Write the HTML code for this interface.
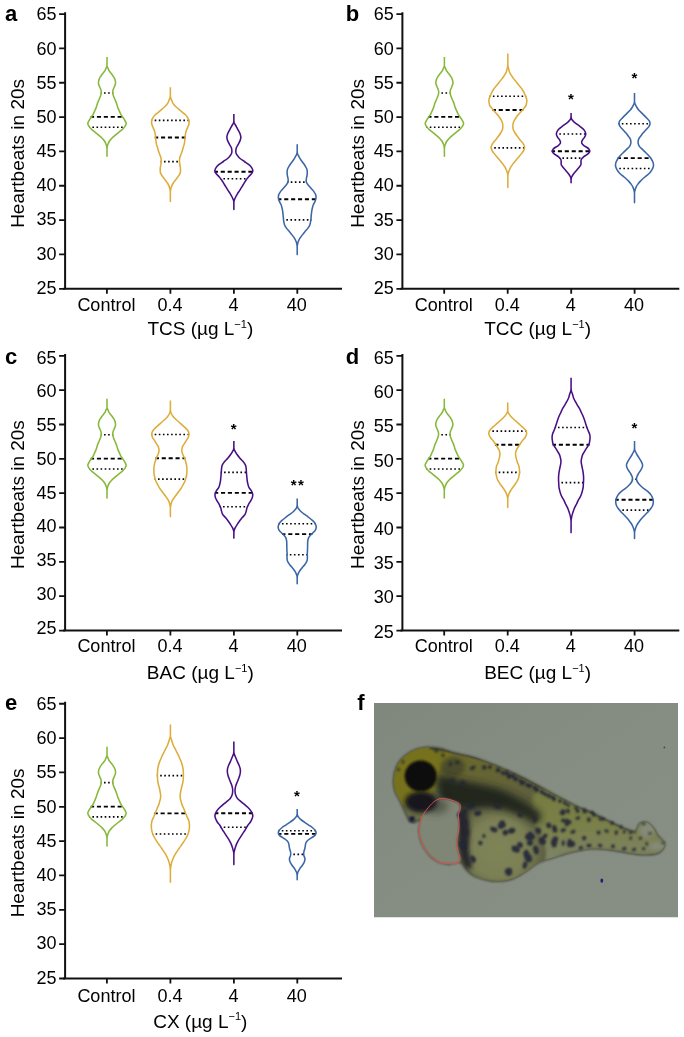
<!DOCTYPE html>
<html><head><meta charset="utf-8"><title>Figure</title>
<style>
html,body{margin:0;padding:0;background:#fff;}
body{width:684px;height:1037px;overflow:hidden;}
svg{display:block;will-change:transform;}
text{font-family:"Liberation Sans",sans-serif;fill:#000;}
.tl{font-size:18px;}
.tt{font-size:19px;}
.sup{font-size:11px;}
.pl{font-size:22px;font-weight:bold;}
.st{font-size:15px;font-weight:bold;}
.ax{stroke:#111;stroke-width:2;fill:none;stroke-linecap:square;}
.tk{stroke:#111;stroke-width:1.8;fill:none;}
.md{stroke:#000;stroke-width:1.9;stroke-dasharray:4.1 2.8;stroke-dashoffset:0.65;}
.qt{stroke:#000;stroke-width:1.6;stroke-dasharray:1.6 2.5;stroke-dashoffset:0.75;}
</style></head><body>
<svg width="684" height="1037" viewBox="0 0 684 1037">

<g transform="translate(0 0)">
<path d="M65.1 13.15 V288.8 M64.1 288.8 H341" class="ax"/>
<text x="56.6" y="20.4" class="tl" text-anchor="end">65</text>
<text x="56.6" y="54.57" class="tl" text-anchor="end">60</text>
<text x="56.6" y="88.74" class="tl" text-anchor="end">55</text>
<text x="56.6" y="122.91" class="tl" text-anchor="end">50</text>
<text x="56.6" y="157.07" class="tl" text-anchor="end">45</text>
<text x="56.6" y="191.24" class="tl" text-anchor="end">40</text>
<text x="56.6" y="225.41" class="tl" text-anchor="end">35</text>
<text x="56.6" y="259.58" class="tl" text-anchor="end">30</text>
<text x="56.6" y="293.75" class="tl" text-anchor="end">25</text>
<text x="106.4" y="311.3" class="tl" text-anchor="middle">Control</text>
<text x="169.9" y="311.3" class="tl" text-anchor="middle">0.4</text>
<text x="233.4" y="311.3" class="tl" text-anchor="middle">4</text>
<text x="296.8" y="311.3" class="tl" text-anchor="middle">40</text>
<path d="M59.1 14.05 H65.1 M59.1 48.39 H65.1 M59.1 82.74 H65.1 M59.1 117.08 H65.1 M59.1 151.43 H65.1 M59.1 185.77 H65.1 M59.1 220.11 H65.1 M59.1 254.46 H65.1 M59.1 288.8 H65.1 M106.9 288.8 V293.7 M170.4 288.8 V293.7 M233.9 288.8 V293.7 M297.3 288.8 V293.7" class="tk"/>
<text x="24" y="153.4" class="tt" text-anchor="middle" transform="rotate(-90 24 153.4)">Heartbeats in 20s</text>
<text x="200.3" y="335.35" class="tt" text-anchor="middle">TCS (µg L<tspan class="sup" dy="-7.2">−1</tspan><tspan dy="7.2">)</tspan></text>
</g>
<text x="5" y="20.5" class="pl">a</text>
<g transform="translate(337.3 0)">
<path d="M65.1 13.15 V288.8 M64.1 288.8 H341" class="ax"/>
<text x="56.6" y="20.4" class="tl" text-anchor="end">65</text>
<text x="56.6" y="54.59" class="tl" text-anchor="end">60</text>
<text x="56.6" y="88.78" class="tl" text-anchor="end">55</text>
<text x="56.6" y="122.96" class="tl" text-anchor="end">50</text>
<text x="56.6" y="157.15" class="tl" text-anchor="end">45</text>
<text x="56.6" y="191.34" class="tl" text-anchor="end">40</text>
<text x="56.6" y="225.52" class="tl" text-anchor="end">35</text>
<text x="56.6" y="259.71" class="tl" text-anchor="end">30</text>
<text x="56.6" y="293.9" class="tl" text-anchor="end">25</text>
<text x="106.4" y="311.3" class="tl" text-anchor="middle">Control</text>
<text x="169.9" y="311.3" class="tl" text-anchor="middle">0.4</text>
<text x="233.4" y="311.3" class="tl" text-anchor="middle">4</text>
<text x="296.8" y="311.3" class="tl" text-anchor="middle">40</text>
<path d="M59.1 14.05 H65.1 M59.1 48.39 H65.1 M59.1 82.74 H65.1 M59.1 117.08 H65.1 M59.1 151.43 H65.1 M59.1 185.77 H65.1 M59.1 220.11 H65.1 M59.1 254.46 H65.1 M59.1 288.8 H65.1 M106.9 288.8 V293.7 M170.4 288.8 V293.7 M233.9 288.8 V293.7 M297.3 288.8 V293.7" class="tk"/>
<text x="26.7" y="153.4" class="tt" text-anchor="middle" transform="rotate(-90 26.7 153.4)">Heartbeats in 20s</text>
<text x="200.3" y="335.3" class="tt" text-anchor="middle">TCC (µg L<tspan class="sup" dy="-7.2">−1</tspan><tspan dy="7.2">)</tspan></text>
</g>
<text x="345.8" y="20.5" class="pl">b</text>
<g transform="translate(0 341.75)">
<path d="M65.1 13.15 V288.8 M64.1 288.8 H341" class="ax"/>
<text x="56.6" y="21.9" class="tl" text-anchor="end">65</text>
<text x="56.6" y="55.67" class="tl" text-anchor="end">60</text>
<text x="56.6" y="89.44" class="tl" text-anchor="end">55</text>
<text x="56.6" y="123.21" class="tl" text-anchor="end">50</text>
<text x="56.6" y="156.97" class="tl" text-anchor="end">45</text>
<text x="56.6" y="190.74" class="tl" text-anchor="end">40</text>
<text x="56.6" y="224.51" class="tl" text-anchor="end">35</text>
<text x="56.6" y="258.28" class="tl" text-anchor="end">30</text>
<text x="56.6" y="292.05" class="tl" text-anchor="end">25</text>
<text x="106.4" y="310.25" class="tl" text-anchor="middle">Control</text>
<text x="169.9" y="310.25" class="tl" text-anchor="middle">0.4</text>
<text x="233.4" y="310.25" class="tl" text-anchor="middle">4</text>
<text x="296.8" y="310.25" class="tl" text-anchor="middle">40</text>
<path d="M59.1 14.05 H65.1 M59.1 48.39 H65.1 M59.1 82.74 H65.1 M59.1 117.08 H65.1 M59.1 151.43 H65.1 M59.1 185.77 H65.1 M59.1 220.11 H65.1 M59.1 254.46 H65.1 M59.1 288.8 H65.1 M106.9 288.8 V293.7 M170.4 288.8 V293.7 M233.9 288.8 V293.7 M297.3 288.8 V293.7" class="tk"/>
<text x="24" y="152.85" class="tt" text-anchor="middle" transform="rotate(-90 24 152.85)">Heartbeats in 20s</text>
<text x="200.3" y="336.95" class="tt" text-anchor="middle">BAC (µg L<tspan class="sup" dy="-7.2">−1</tspan><tspan dy="7.2">)</tspan></text>
</g>
<text x="5" y="363.5" class="pl">c</text>
<g transform="translate(337.3 341.75)">
<path d="M65.1 13.15 V288.8 M64.1 288.8 H341" class="ax"/>
<text x="56.6" y="22.15" class="tl" text-anchor="end">65</text>
<text x="56.6" y="56.37" class="tl" text-anchor="end">60</text>
<text x="56.6" y="90.59" class="tl" text-anchor="end">55</text>
<text x="56.6" y="124.81" class="tl" text-anchor="end">50</text>
<text x="56.6" y="159.03" class="tl" text-anchor="end">45</text>
<text x="56.6" y="193.24" class="tl" text-anchor="end">40</text>
<text x="56.6" y="227.46" class="tl" text-anchor="end">35</text>
<text x="56.6" y="261.68" class="tl" text-anchor="end">30</text>
<text x="56.6" y="295.9" class="tl" text-anchor="end">25</text>
<text x="106.4" y="310.25" class="tl" text-anchor="middle">Control</text>
<text x="169.9" y="310.25" class="tl" text-anchor="middle">0.4</text>
<text x="233.4" y="310.25" class="tl" text-anchor="middle">4</text>
<text x="296.8" y="310.25" class="tl" text-anchor="middle">40</text>
<path d="M59.1 14.05 H65.1 M59.1 48.39 H65.1 M59.1 82.74 H65.1 M59.1 117.08 H65.1 M59.1 151.43 H65.1 M59.1 185.77 H65.1 M59.1 220.11 H65.1 M59.1 254.46 H65.1 M59.1 288.8 H65.1 M106.9 288.8 V293.7 M170.4 288.8 V293.7 M233.9 288.8 V293.7 M297.3 288.8 V293.7" class="tk"/>
<text x="26.7" y="152.85" class="tt" text-anchor="middle" transform="rotate(-90 26.7 152.85)">Heartbeats in 20s</text>
<text x="200.3" y="336.95" class="tt" text-anchor="middle">BEC (µg L<tspan class="sup" dy="-7.2">−1</tspan><tspan dy="7.2">)</tspan></text>
</g>
<text x="345.8" y="364" class="pl">d</text>
<g transform="translate(0 689.7)">
<path d="M65.1 13.15 V288.8 M64.1 288.8 H341" class="ax"/>
<text x="56.6" y="20.2" class="tl" text-anchor="end">65</text>
<text x="56.6" y="54.41" class="tl" text-anchor="end">60</text>
<text x="56.6" y="88.61" class="tl" text-anchor="end">55</text>
<text x="56.6" y="122.82" class="tl" text-anchor="end">50</text>
<text x="56.6" y="157.03" class="tl" text-anchor="end">45</text>
<text x="56.6" y="191.23" class="tl" text-anchor="end">40</text>
<text x="56.6" y="225.44" class="tl" text-anchor="end">35</text>
<text x="56.6" y="259.64" class="tl" text-anchor="end">30</text>
<text x="56.6" y="293.85" class="tl" text-anchor="end">25</text>
<text x="106.4" y="312.5" class="tl" text-anchor="middle">Control</text>
<text x="169.9" y="312.5" class="tl" text-anchor="middle">0.4</text>
<text x="233.4" y="312.5" class="tl" text-anchor="middle">4</text>
<text x="296.8" y="312.5" class="tl" text-anchor="middle">40</text>
<path d="M59.1 14.05 H65.1 M59.1 48.39 H65.1 M59.1 82.74 H65.1 M59.1 117.08 H65.1 M59.1 151.43 H65.1 M59.1 185.77 H65.1 M59.1 220.11 H65.1 M59.1 254.46 H65.1 M59.1 288.8 H65.1 M106.9 288.8 V293.7 M170.4 288.8 V293.7 M233.9 288.8 V293.7 M297.3 288.8 V293.7" class="tk"/>
<text x="24" y="153.2" class="tt" text-anchor="middle" transform="rotate(-90 24 153.2)">Heartbeats in 20s</text>
<text x="200.3" y="338" class="tt" text-anchor="middle">CX (µg L<tspan class="sup" dy="-7.2">−1</tspan><tspan dy="7.2">)</tspan></text>
</g>
<text x="5" y="710" class="pl">e</text>
<line x1="90.66" y1="116.9" x2="123.34" y2="116.9" class="md"/>
<line x1="100.67" y1="92.95" x2="113.33" y2="92.95" class="qt"/>
<line x1="89.04" y1="127.2" x2="124.96" y2="127.2" class="qt"/>
<path d="M107 57 L107 65.1 C107 65.62 107.04 65.79 107.1 66.13 C107.16 66.48 107.23 66.82 107.38 67.17 C107.53 67.51 107.75 67.66 108 68.2 C108.25 68.74 108.5 69.68 108.9 70.4 C109.3 71.12 109.85 71.78 110.4 72.5 C110.95 73.22 111.65 73.97 112.2 74.7 C112.75 75.43 113.27 76.17 113.7 76.9 C114.13 77.63 114.52 78.37 114.8 79.1 C115.08 79.83 115.28 80.53 115.4 81.3 C115.52 82.07 115.67 82.8 115.5 83.7 C115.33 84.6 114.82 85.63 114.4 86.7 C113.98 87.77 113.28 89.08 113 90.1 C112.72 91.12 112.65 91.9 112.7 92.8 C112.75 93.7 112.88 94.27 113.3 95.5 C113.72 96.73 114.7 98.87 115.25 100.2 C115.8 101.53 116.21 102.38 116.6 103.5 C116.99 104.62 117.2 105.77 117.6 106.9 C118 108.03 118.52 109.18 119 110.3 C119.48 111.42 119.9 112.48 120.5 113.6 C121.1 114.72 121.88 115.88 122.6 117 C123.32 118.12 124.2 119.22 124.8 120.3 C125.4 121.38 126.2 122.43 126.2 123.5 C126.2 124.57 125.43 125.72 124.8 126.7 C124.17 127.68 123.37 128.5 122.4 129.4 C121.43 130.3 120.12 131.2 119 132.1 C117.88 133 116.89 133.78 115.7 134.8 C114.51 135.82 112.93 137.08 111.85 138.2 C110.77 139.32 109.89 140.38 109.2 141.5 C108.51 142.62 108.02 144.07 107.7 144.9 C107.38 145.73 107.37 145.97 107.27 146.5 C107.16 147.03 107.11 147.57 107.07 148.1 C107.03 148.63 107 148.9 107 149.7 L107 156.3 L107 149.7 C107 148.9 106.97 148.63 106.93 148.1 C106.89 147.57 106.84 147.03 106.73 146.5 C106.63 145.97 106.62 145.73 106.3 144.9 C105.98 144.07 105.49 142.62 104.8 141.5 C104.11 140.38 103.23 139.32 102.15 138.2 C101.07 137.08 99.49 135.82 98.3 134.8 C97.11 133.78 96.12 133 95 132.1 C93.88 131.2 92.57 130.3 91.6 129.4 C90.63 128.5 89.83 127.68 89.2 126.7 C88.57 125.72 87.8 124.57 87.8 123.5 C87.8 122.43 88.6 121.38 89.2 120.3 C89.8 119.22 90.68 118.12 91.4 117 C92.12 115.88 92.9 114.72 93.5 113.6 C94.1 112.48 94.52 111.42 95 110.3 C95.48 109.18 96 108.03 96.4 106.9 C96.8 105.77 97.01 104.62 97.4 103.5 C97.79 102.38 98.2 101.53 98.75 100.2 C99.3 98.87 100.28 96.73 100.7 95.5 C101.12 94.27 101.25 93.7 101.3 92.8 C101.35 91.9 101.28 91.12 101 90.1 C100.72 89.08 100.02 87.77 99.6 86.7 C99.18 85.63 98.67 84.6 98.5 83.7 C98.33 82.8 98.48 82.07 98.6 81.3 C98.72 80.53 98.92 79.83 99.2 79.1 C99.48 78.37 99.87 77.63 100.3 76.9 C100.73 76.17 101.25 75.43 101.8 74.7 C102.35 73.97 103.05 73.22 103.6 72.5 C104.15 71.78 104.7 71.12 105.1 70.4 C105.5 69.68 105.75 68.74 106 68.2 C106.25 67.66 106.47 67.51 106.62 67.17 C106.77 66.82 106.84 66.48 106.9 66.13 C106.96 65.79 107 65.62 107 65.1 L107 57" fill="none" stroke="#86b83a" stroke-width="1.55" stroke-linejoin="round"/>
<line x1="154.79" y1="137.5" x2="185.91" y2="137.5" class="md"/>
<line x1="151.32" y1="120.4" x2="189.38" y2="120.4" class="qt"/>
<line x1="160.64" y1="161.6" x2="180.06" y2="161.6" class="qt"/>
<path d="M170.35 87.3 L170.35 94.8 C170.35 95.42 170.37 95.62 170.41 96.03 C170.45 96.44 170.49 96.86 170.58 97.27 C170.67 97.68 170.75 97.98 170.95 98.5 C171.15 99.02 171.4 99.6 171.75 100.4 C172.1 101.2 172.43 102.33 173.05 103.3 C173.67 104.27 174.52 105.23 175.45 106.2 C176.38 107.17 177.53 108.12 178.65 109.1 C179.77 110.08 180.98 111.12 182.15 112.1 C183.32 113.08 184.7 114.03 185.65 115 C186.6 115.97 187.27 116.83 187.85 117.9 C188.43 118.97 189 120.27 189.15 121.4 C189.3 122.53 189.05 123.58 188.75 124.7 C188.45 125.82 187.8 126.98 187.35 128.1 C186.9 129.22 186.38 130.28 186.05 131.4 C185.72 132.52 185.52 133.67 185.35 134.8 C185.18 135.93 185.17 137.08 185.05 138.2 C184.93 139.32 184.82 140.38 184.65 141.5 C184.48 142.62 184.33 143.77 184.05 144.9 C183.77 146.03 183.28 147.18 182.95 148.3 C182.62 149.42 182.42 150.48 182.05 151.6 C181.68 152.72 181.15 153.88 180.75 155 C180.35 156.12 179.87 157.18 179.65 158.3 C179.43 159.42 179.4 160.57 179.45 161.7 C179.5 162.83 179.78 163.98 179.95 165.1 C180.12 166.22 180.37 167.33 180.45 168.4 C180.53 169.47 180.52 170.67 180.45 171.5 C180.38 172.33 180.47 172.52 180.05 173.4 C179.63 174.28 178.75 175.67 177.95 176.8 C177.15 177.93 176.08 179.08 175.25 180.2 C174.42 181.32 173.6 182.38 172.95 183.5 C172.3 184.62 171.75 185.77 171.35 186.9 C170.95 188.03 170.7 189.54 170.55 190.3 C170.4 191.06 170.46 191.06 170.43 191.43 C170.4 191.81 170.38 192.19 170.37 192.57 C170.36 192.94 170.35 193.13 170.35 193.7 L170.35 201.4 L170.35 193.7 C170.35 193.13 170.34 192.94 170.33 192.57 C170.32 192.19 170.3 191.81 170.27 191.43 C170.24 191.06 170.3 191.06 170.15 190.3 C170 189.54 169.75 188.03 169.35 186.9 C168.95 185.77 168.4 184.62 167.75 183.5 C167.1 182.38 166.28 181.32 165.45 180.2 C164.62 179.08 163.55 177.93 162.75 176.8 C161.95 175.67 161.07 174.28 160.65 173.4 C160.23 172.52 160.32 172.33 160.25 171.5 C160.18 170.67 160.17 169.47 160.25 168.4 C160.33 167.33 160.58 166.22 160.75 165.1 C160.92 163.98 161.2 162.83 161.25 161.7 C161.3 160.57 161.27 159.42 161.05 158.3 C160.83 157.18 160.35 156.12 159.95 155 C159.55 153.88 159.02 152.72 158.65 151.6 C158.28 150.48 158.08 149.42 157.75 148.3 C157.42 147.18 156.93 146.03 156.65 144.9 C156.37 143.77 156.22 142.62 156.05 141.5 C155.88 140.38 155.77 139.32 155.65 138.2 C155.53 137.08 155.52 135.93 155.35 134.8 C155.18 133.67 154.98 132.52 154.65 131.4 C154.32 130.28 153.8 129.22 153.35 128.1 C152.9 126.98 152.25 125.82 151.95 124.7 C151.65 123.58 151.4 122.53 151.55 121.4 C151.7 120.27 152.27 118.97 152.85 117.9 C153.43 116.83 154.1 115.97 155.05 115 C156 114.03 157.38 113.08 158.55 112.1 C159.72 111.12 160.93 110.08 162.05 109.1 C163.17 108.12 164.32 107.17 165.25 106.2 C166.18 105.23 167.03 104.27 167.65 103.3 C168.27 102.33 168.6 101.2 168.95 100.4 C169.3 99.6 169.55 99.02 169.75 98.5 C169.95 97.98 170.03 97.68 170.12 97.27 C170.21 96.86 170.25 96.44 170.29 96.03 C170.33 95.62 170.35 95.42 170.35 94.8 L170.35 87.3" fill="none" stroke="#ddad3c" stroke-width="1.55" stroke-linejoin="round"/>
<line x1="214.5" y1="171.8" x2="253.22" y2="171.8" class="md"/>
<line x1="220.05" y1="178.8" x2="247.67" y2="178.8" class="qt"/>
<path d="M233.86 114 L233.86 120.6 C233.86 121.18 233.9 121.38 233.96 121.77 C234.02 122.16 234.09 122.54 234.24 122.93 C234.39 123.32 234.49 123.46 234.86 124.1 C235.23 124.74 235.89 125.78 236.46 126.8 C237.03 127.82 237.68 129.08 238.26 130.2 C238.84 131.32 239.53 132.27 239.96 133.5 C240.39 134.73 240.86 136.37 240.86 137.6 C240.86 138.83 240.39 139.78 239.96 140.9 C239.53 142.02 238.84 143.18 238.26 144.3 C237.68 145.42 236.87 146.48 236.46 147.6 C236.05 148.72 235.84 149.98 235.81 151 C235.78 152.02 235.87 152.8 236.26 153.7 C236.65 154.6 237.53 155.6 238.16 156.4 C238.79 157.2 239.03 157.65 240.06 158.5 C241.09 159.35 242.88 160.47 244.36 161.5 C245.84 162.53 247.69 163.6 248.96 164.7 C250.23 165.8 251.31 167.08 251.96 168.1 C252.61 169.12 252.91 169.9 252.86 170.8 C252.81 171.7 252.36 172.5 251.66 173.5 C250.96 174.5 249.61 175.68 248.66 176.8 C247.71 177.92 246.76 179.07 245.96 180.2 C245.16 181.33 244.54 182.48 243.86 183.6 C243.18 184.72 242.54 185.78 241.86 186.9 C241.18 188.02 240.48 189.18 239.76 190.3 C239.04 191.42 238.24 192.48 237.56 193.6 C236.88 194.72 236.23 195.87 235.66 197 C235.09 198.13 234.44 199.65 234.16 200.4 C233.88 201.15 234.02 201.13 233.97 201.5 C233.93 201.87 233.91 202.23 233.89 202.6 C233.87 202.97 233.86 203.15 233.86 203.7 L233.86 209.4 L233.86 203.7 C233.86 203.15 233.85 202.97 233.83 202.6 C233.81 202.23 233.79 201.87 233.75 201.5 C233.7 201.13 233.84 201.15 233.56 200.4 C233.28 199.65 232.63 198.13 232.06 197 C231.49 195.87 230.84 194.72 230.16 193.6 C229.48 192.48 228.68 191.42 227.96 190.3 C227.24 189.18 226.54 188.02 225.86 186.9 C225.18 185.78 224.54 184.72 223.86 183.6 C223.18 182.48 222.56 181.33 221.76 180.2 C220.96 179.07 220.01 177.92 219.06 176.8 C218.11 175.68 216.76 174.5 216.06 173.5 C215.36 172.5 214.91 171.7 214.86 170.8 C214.81 169.9 215.11 169.12 215.76 168.1 C216.41 167.08 217.49 165.8 218.76 164.7 C220.03 163.6 221.88 162.53 223.36 161.5 C224.84 160.47 226.63 159.35 227.66 158.5 C228.69 157.65 228.93 157.2 229.56 156.4 C230.19 155.6 231.07 154.6 231.46 153.7 C231.85 152.8 231.94 152.02 231.91 151 C231.88 149.98 231.67 148.72 231.26 147.6 C230.85 146.48 230.04 145.42 229.46 144.3 C228.88 143.18 228.19 142.02 227.76 140.9 C227.33 139.78 226.86 138.83 226.86 137.6 C226.86 136.37 227.33 134.73 227.76 133.5 C228.19 132.27 228.88 131.32 229.46 130.2 C230.04 129.08 230.69 127.82 231.26 126.8 C231.83 125.78 232.49 124.74 232.86 124.1 C233.23 123.46 233.33 123.32 233.48 122.93 C233.63 122.54 233.7 122.16 233.76 121.77 C233.82 121.38 233.86 121.18 233.86 120.6 L233.86 114" fill="none" stroke="#480f84" stroke-width="1.55" stroke-linejoin="round"/>
<line x1="277.96" y1="199.3" x2="316.44" y2="199.3" class="md"/>
<line x1="287.41" y1="182.1" x2="306.99" y2="182.1" class="qt"/>
<line x1="282.99" y1="219.9" x2="311.41" y2="219.9" class="qt"/>
<path d="M297.2 144.2 L297.2 151.2 C297.2 151.9 297.24 152.13 297.31 152.6 C297.38 153.07 297.45 153.53 297.62 154 C297.78 154.47 297.87 154.6 298.3 155.4 C298.73 156.2 299.48 157.67 300.2 158.8 C300.92 159.93 301.82 161.08 302.6 162.2 C303.38 163.32 304.2 164.38 304.9 165.5 C305.6 166.62 306.4 167.77 306.8 168.9 C307.2 170.03 307.27 171.18 307.3 172.3 C307.33 173.42 307.17 174.48 307 175.6 C306.83 176.72 306.4 177.88 306.3 179 C306.2 180.12 305.98 181.18 306.4 182.3 C306.82 183.42 307.92 184.57 308.8 185.7 C309.68 186.83 310.85 188.12 311.7 189.1 C312.55 190.08 313.23 190.67 313.9 191.6 C314.57 192.53 315.35 193.62 315.7 194.7 C316.05 195.78 316.12 196.98 316 198.1 C315.88 199.22 315.45 200.28 315 201.4 C314.55 202.52 313.75 203.67 313.3 204.8 C312.85 205.93 312.57 207.08 312.3 208.2 C312.03 209.32 311.87 210.38 311.7 211.5 C311.53 212.62 311.42 213.77 311.3 214.9 C311.18 216.03 311.12 217.18 311 218.3 C310.88 219.42 310.8 220.48 310.6 221.6 C310.4 222.72 310.27 223.87 309.8 225 C309.33 226.13 308.62 227.28 307.8 228.4 C306.98 229.52 305.83 230.58 304.9 231.7 C303.97 232.82 303.05 233.98 302.2 235.1 C301.35 236.22 300.47 237.28 299.8 238.4 C299.13 239.52 298.58 240.78 298.2 241.8 C297.82 242.82 297.65 243.84 297.5 244.5 C297.35 245.16 297.36 245.32 297.31 245.73 C297.27 246.14 297.25 246.56 297.23 246.97 C297.21 247.38 297.2 247.58 297.2 248.2 L297.2 254.6 L297.2 248.2 C297.2 247.58 297.19 247.38 297.17 246.97 C297.15 246.56 297.13 246.14 297.09 245.73 C297.04 245.32 297.05 245.16 296.9 244.5 C296.75 243.84 296.58 242.82 296.2 241.8 C295.82 240.78 295.27 239.52 294.6 238.4 C293.93 237.28 293.05 236.22 292.2 235.1 C291.35 233.98 290.43 232.82 289.5 231.7 C288.57 230.58 287.42 229.52 286.6 228.4 C285.78 227.28 285.07 226.13 284.6 225 C284.13 223.87 284 222.72 283.8 221.6 C283.6 220.48 283.52 219.42 283.4 218.3 C283.28 217.18 283.22 216.03 283.1 214.9 C282.98 213.77 282.87 212.62 282.7 211.5 C282.53 210.38 282.37 209.32 282.1 208.2 C281.83 207.08 281.55 205.93 281.1 204.8 C280.65 203.67 279.85 202.52 279.4 201.4 C278.95 200.28 278.52 199.22 278.4 198.1 C278.28 196.98 278.35 195.78 278.7 194.7 C279.05 193.62 279.83 192.53 280.5 191.6 C281.17 190.67 281.85 190.08 282.7 189.1 C283.55 188.12 284.72 186.83 285.6 185.7 C286.48 184.57 287.58 183.42 288 182.3 C288.42 181.18 288.2 180.12 288.1 179 C288 177.88 287.57 176.72 287.4 175.6 C287.23 174.48 287.07 173.42 287.1 172.3 C287.13 171.18 287.2 170.03 287.6 168.9 C288 167.77 288.8 166.62 289.5 165.5 C290.2 164.38 291.02 163.32 291.8 162.2 C292.58 161.08 293.48 159.93 294.2 158.8 C294.92 157.67 295.67 156.2 296.1 155.4 C296.53 154.6 296.62 154.47 296.78 154 C296.95 153.53 297.02 153.07 297.09 152.6 C297.16 152.13 297.2 151.9 297.2 151.2 L297.2 144.2" fill="none" stroke="#3b66a6" stroke-width="1.55" stroke-linejoin="round"/>
<line x1="428.06" y1="116.9" x2="460.74" y2="116.9" class="md"/>
<line x1="438.07" y1="92.95" x2="450.73" y2="92.95" class="qt"/>
<line x1="426.44" y1="127.2" x2="462.36" y2="127.2" class="qt"/>
<path d="M444.4 57 L444.4 65.1 C444.4 65.62 444.44 65.79 444.5 66.13 C444.56 66.48 444.63 66.82 444.78 67.17 C444.93 67.51 445.15 67.66 445.4 68.2 C445.65 68.74 445.9 69.68 446.3 70.4 C446.7 71.12 447.25 71.78 447.8 72.5 C448.35 73.22 449.05 73.97 449.6 74.7 C450.15 75.43 450.67 76.17 451.1 76.9 C451.53 77.63 451.92 78.37 452.2 79.1 C452.48 79.83 452.68 80.53 452.8 81.3 C452.92 82.07 453.07 82.8 452.9 83.7 C452.73 84.6 452.22 85.63 451.8 86.7 C451.38 87.77 450.68 89.08 450.4 90.1 C450.12 91.12 450.05 91.9 450.1 92.8 C450.15 93.7 450.27 94.27 450.7 95.5 C451.12 96.73 452.1 98.87 452.65 100.2 C453.2 101.53 453.61 102.38 454 103.5 C454.39 104.62 454.6 105.77 455 106.9 C455.4 108.03 455.92 109.18 456.4 110.3 C456.88 111.42 457.3 112.48 457.9 113.6 C458.5 114.72 459.28 115.88 460 117 C460.72 118.12 461.6 119.22 462.2 120.3 C462.8 121.38 463.6 122.43 463.6 123.5 C463.6 124.57 462.83 125.72 462.2 126.7 C461.57 127.68 460.77 128.5 459.8 129.4 C458.83 130.3 457.52 131.2 456.4 132.1 C455.28 133 454.29 133.78 453.1 134.8 C451.91 135.82 450.33 137.08 449.25 138.2 C448.17 139.32 447.29 140.38 446.6 141.5 C445.91 142.62 445.42 144.07 445.1 144.9 C444.78 145.73 444.77 145.97 444.67 146.5 C444.56 147.03 444.51 147.57 444.47 148.1 C444.43 148.63 444.4 148.9 444.4 149.7 L444.4 156.3 L444.4 149.7 C444.4 148.9 444.37 148.63 444.33 148.1 C444.29 147.57 444.24 147.03 444.13 146.5 C444.03 145.97 444.02 145.73 443.7 144.9 C443.38 144.07 442.89 142.62 442.2 141.5 C441.51 140.38 440.63 139.32 439.55 138.2 C438.47 137.08 436.89 135.82 435.7 134.8 C434.51 133.78 433.52 133 432.4 132.1 C431.28 131.2 429.97 130.3 429 129.4 C428.03 128.5 427.23 127.68 426.6 126.7 C425.97 125.72 425.2 124.57 425.2 123.5 C425.2 122.43 426 121.38 426.6 120.3 C427.2 119.22 428.08 118.12 428.8 117 C429.52 115.88 430.3 114.72 430.9 113.6 C431.5 112.48 431.92 111.42 432.4 110.3 C432.88 109.18 433.4 108.03 433.8 106.9 C434.2 105.77 434.41 104.62 434.8 103.5 C435.19 102.38 435.6 101.53 436.15 100.2 C436.7 98.87 437.67 96.73 438.1 95.5 C438.52 94.27 438.65 93.7 438.7 92.8 C438.75 91.9 438.68 91.12 438.4 90.1 C438.12 89.08 437.42 87.77 437 86.7 C436.58 85.63 436.07 84.6 435.9 83.7 C435.73 82.8 435.88 82.07 436 81.3 C436.12 80.53 436.32 79.83 436.6 79.1 C436.88 78.37 437.27 77.63 437.7 76.9 C438.13 76.17 438.65 75.43 439.2 74.7 C439.75 73.97 440.45 73.22 441 72.5 C441.55 71.78 442.1 71.12 442.5 70.4 C442.9 69.68 443.15 68.74 443.4 68.2 C443.65 67.66 443.87 67.51 444.02 67.17 C444.17 66.82 444.24 66.48 444.3 66.13 C444.36 65.79 444.4 65.62 444.4 65.1 L444.4 57" fill="none" stroke="#86b83a" stroke-width="1.55" stroke-linejoin="round"/>
<line x1="492.47" y1="110" x2="523.25" y2="110" class="md"/>
<line x1="489.54" y1="96.3" x2="526.18" y2="96.3" class="qt"/>
<line x1="490.87" y1="147.9" x2="524.85" y2="147.9" class="qt"/>
<path d="M507.86 53.4 L507.86 63.9 C507.86 64.72 507.89 64.99 507.94 65.53 C507.99 66.08 508.04 66.62 508.16 67.17 C508.28 67.71 508.43 67.96 508.66 68.8 C508.89 69.64 509.08 71.07 509.56 72.2 C510.04 73.33 510.86 74.48 511.56 75.6 C512.26 76.72 512.93 77.78 513.76 78.9 C514.59 80.02 515.68 81.18 516.56 82.3 C517.44 83.42 518.16 84.48 519.06 85.6 C519.96 86.72 521.14 87.87 521.96 89 C522.78 90.13 523.39 91.28 523.96 92.4 C524.53 93.52 524.91 94.57 525.36 95.7 C525.81 96.83 526.44 98.03 526.66 99.2 C526.88 100.37 526.83 101.55 526.66 102.7 C526.49 103.85 526.28 104.98 525.66 106.1 C525.04 107.22 523.89 108.28 522.96 109.4 C522.03 110.52 521.06 111.67 520.06 112.8 C519.06 113.93 517.83 115.08 516.96 116.2 C516.09 117.32 515.48 118.38 514.86 119.5 C514.24 120.62 513.59 121.77 513.26 122.9 C512.93 124.03 512.86 125.18 512.86 126.3 C512.86 127.42 512.89 128.48 513.26 129.6 C513.63 130.72 514.39 131.88 515.06 133 C515.73 134.12 516.44 135.18 517.26 136.3 C518.08 137.42 519.03 138.55 519.96 139.7 C520.89 140.85 522.11 142.03 522.86 143.2 C523.61 144.37 524.29 145.55 524.46 146.7 C524.63 147.85 524.33 148.98 523.86 150.1 C523.39 151.22 522.48 152.28 521.66 153.4 C520.84 154.52 519.91 155.67 518.96 156.8 C518.01 157.93 516.91 159.08 515.96 160.2 C515.01 161.32 514.11 162.38 513.26 163.5 C512.41 164.62 511.53 165.77 510.86 166.9 C510.19 168.03 509.71 169.18 509.26 170.3 C508.81 171.42 508.37 172.85 508.16 173.6 C507.95 174.35 508.02 174.4 507.97 174.8 C507.93 175.2 507.91 175.6 507.89 176 C507.87 176.4 507.86 176.6 507.86 177.2 L507.86 187.4 L507.86 177.2 C507.86 176.6 507.85 176.4 507.83 176 C507.81 175.6 507.79 175.2 507.75 174.8 C507.7 174.4 507.77 174.35 507.56 173.6 C507.35 172.85 506.91 171.42 506.46 170.3 C506.01 169.18 505.53 168.03 504.86 166.9 C504.19 165.77 503.31 164.62 502.46 163.5 C501.61 162.38 500.71 161.32 499.76 160.2 C498.81 159.08 497.71 157.93 496.76 156.8 C495.81 155.67 494.88 154.52 494.06 153.4 C493.24 152.28 492.33 151.22 491.86 150.1 C491.39 148.98 491.09 147.85 491.26 146.7 C491.43 145.55 492.11 144.37 492.86 143.2 C493.61 142.03 494.83 140.85 495.76 139.7 C496.69 138.55 497.64 137.42 498.46 136.3 C499.28 135.18 499.99 134.12 500.66 133 C501.33 131.88 502.09 130.72 502.46 129.6 C502.83 128.48 502.86 127.42 502.86 126.3 C502.86 125.18 502.79 124.03 502.46 122.9 C502.13 121.77 501.48 120.62 500.86 119.5 C500.24 118.38 499.63 117.32 498.76 116.2 C497.89 115.08 496.66 113.93 495.66 112.8 C494.66 111.67 493.69 110.52 492.76 109.4 C491.83 108.28 490.68 107.22 490.06 106.1 C489.44 104.98 489.23 103.85 489.06 102.7 C488.89 101.55 488.84 100.37 489.06 99.2 C489.28 98.03 489.91 96.83 490.36 95.7 C490.81 94.57 491.19 93.52 491.76 92.4 C492.33 91.28 492.94 90.13 493.76 89 C494.58 87.87 495.76 86.72 496.66 85.6 C497.56 84.48 498.28 83.42 499.16 82.3 C500.04 81.18 501.13 80.02 501.96 78.9 C502.79 77.78 503.46 76.72 504.16 75.6 C504.86 74.48 505.68 73.33 506.16 72.2 C506.64 71.07 506.83 69.64 507.06 68.8 C507.29 67.96 507.44 67.71 507.56 67.17 C507.68 66.62 507.73 66.08 507.78 65.53 C507.83 64.99 507.86 64.72 507.86 63.9 L507.86 53.4" fill="none" stroke="#ddad3c" stroke-width="1.55" stroke-linejoin="round"/>
<line x1="551.63" y1="151.2" x2="590.51" y2="151.2" class="md"/>
<line x1="555.97" y1="134" x2="586.17" y2="134" class="qt"/>
<line x1="559.08" y1="158.1" x2="583.06" y2="158.1" class="qt"/>
<path d="M571.07 113 L571.07 116.5 C571.07 117.1 571.11 117.3 571.19 117.7 C571.27 118.1 571.35 118.5 571.53 118.9 C571.71 119.3 571.83 119.57 572.27 120.1 C572.71 120.63 573.4 121.43 574.17 122.1 C574.94 122.77 575.82 123.32 576.87 124.1 C577.92 124.88 579.34 125.9 580.47 126.8 C581.6 127.7 582.85 128.6 583.67 129.5 C584.49 130.4 585.04 131.3 585.37 132.2 C585.7 133.1 585.85 134 585.67 134.9 C585.49 135.8 584.84 136.7 584.27 137.6 C583.7 138.5 582.7 139.4 582.27 140.3 C581.84 141.2 581.4 142.12 581.67 143 C581.94 143.88 582.97 144.85 583.87 145.6 C584.77 146.35 586.19 146.87 587.07 147.5 C587.95 148.13 588.72 148.75 589.17 149.4 C589.62 150.05 590.02 150.62 589.77 151.4 C589.52 152.18 588.7 153.2 587.67 154.1 C586.64 155 584.64 155.9 583.57 156.8 C582.5 157.7 581.7 158.6 581.27 159.5 C580.84 160.4 581.04 161.32 580.97 162.2 C580.9 163.08 581.2 163.92 580.87 164.8 C580.54 165.68 579.77 166.48 578.97 167.5 C578.17 168.52 577.02 169.77 576.07 170.9 C575.12 172.03 574 173.28 573.27 174.3 C572.54 175.32 572 176.34 571.67 177 C571.34 177.66 571.39 177.82 571.3 178.23 C571.21 178.64 571.17 179.06 571.13 179.47 C571.09 179.88 571.07 180.08 571.07 180.7 L571.07 182.7 L571.07 180.7 C571.07 180.08 571.05 179.88 571.01 179.47 C570.97 179.06 570.93 178.64 570.84 178.23 C570.75 177.82 570.8 177.66 570.47 177 C570.14 176.34 569.6 175.32 568.87 174.3 C568.14 173.28 567.02 172.03 566.07 170.9 C565.12 169.77 563.97 168.52 563.17 167.5 C562.37 166.48 561.6 165.68 561.27 164.8 C560.94 163.92 561.24 163.08 561.17 162.2 C561.1 161.32 561.3 160.4 560.87 159.5 C560.44 158.6 559.64 157.7 558.57 156.8 C557.5 155.9 555.5 155 554.47 154.1 C553.44 153.2 552.62 152.18 552.37 151.4 C552.12 150.62 552.52 150.05 552.97 149.4 C553.42 148.75 554.19 148.13 555.07 147.5 C555.95 146.87 557.37 146.35 558.27 145.6 C559.17 144.85 560.2 143.88 560.47 143 C560.74 142.12 560.3 141.2 559.87 140.3 C559.44 139.4 558.44 138.5 557.87 137.6 C557.3 136.7 556.65 135.8 556.47 134.9 C556.29 134 556.44 133.1 556.77 132.2 C557.1 131.3 557.65 130.4 558.47 129.5 C559.29 128.6 560.54 127.7 561.67 126.8 C562.8 125.9 564.22 124.88 565.27 124.1 C566.32 123.32 567.2 122.77 567.97 122.1 C568.74 121.43 569.43 120.63 569.87 120.1 C570.31 119.57 570.43 119.3 570.61 118.9 C570.79 118.5 570.87 118.1 570.95 117.7 C571.03 117.3 571.07 117.1 571.07 116.5 L571.07 113" fill="none" stroke="#480f84" stroke-width="1.55" stroke-linejoin="round"/>
<line x1="617.58" y1="158.1" x2="651.42" y2="158.1" class="md"/>
<line x1="618.47" y1="123.8" x2="650.53" y2="123.8" class="qt"/>
<line x1="615.93" y1="168.5" x2="653.07" y2="168.5" class="qt"/>
<path d="M634.5 93 L634.5 100.6 C634.5 101.3 634.54 101.53 634.6 102 C634.66 102.47 634.73 102.93 634.88 103.4 C635.03 103.87 635.16 104.12 635.5 104.8 C635.84 105.48 636.33 106.6 636.9 107.5 C637.47 108.4 638.12 109.3 638.9 110.2 C639.68 111.1 640.68 112 641.6 112.9 C642.52 113.8 643.52 114.72 644.4 115.6 C645.28 116.48 646.08 117.32 646.9 118.2 C647.72 119.08 648.78 120 649.3 120.9 C649.82 121.8 650.05 122.7 650 123.6 C649.95 124.5 649.55 125.4 649 126.3 C648.45 127.2 647.48 128.1 646.7 129 C645.92 129.9 645.1 130.8 644.3 131.7 C643.5 132.6 642.63 133.5 641.9 134.4 C641.17 135.3 640.47 136.23 639.9 137.1 C639.33 137.97 638.8 138.67 638.5 139.6 C638.2 140.53 637.98 141.62 638.1 142.7 C638.22 143.78 638.48 144.98 639.2 146.1 C639.92 147.22 641.28 148.28 642.4 149.4 C643.52 150.52 644.75 151.67 645.9 152.8 C647.05 153.93 648.35 155.08 649.3 156.2 C650.25 157.32 650.95 158.38 651.6 159.5 C652.25 160.62 652.9 161.77 653.2 162.9 C653.5 164.03 653.6 165.18 653.4 166.3 C653.2 167.42 652.63 168.48 652 169.6 C651.37 170.72 650.62 171.9 649.6 173 C648.58 174.1 647.02 175.25 645.9 176.2 C644.78 177.15 643.85 177.83 642.9 178.7 C641.95 179.57 641.03 180.5 640.2 181.4 C639.37 182.3 638.57 183.2 637.9 184.1 C637.23 185 636.65 185.9 636.2 186.8 C635.75 187.7 635.45 188.72 635.2 189.5 C634.95 190.28 634.8 190.99 634.7 191.5 C634.6 192.01 634.61 192.21 634.58 192.57 C634.55 192.92 634.53 193.28 634.52 193.63 C634.51 193.99 634.5 194.17 634.5 194.7 L634.5 202.6 L634.5 194.7 C634.5 194.17 634.49 193.99 634.48 193.63 C634.47 193.28 634.45 192.92 634.42 192.57 C634.39 192.21 634.4 192.01 634.3 191.5 C634.2 190.99 634.05 190.28 633.8 189.5 C633.55 188.72 633.25 187.7 632.8 186.8 C632.35 185.9 631.77 185 631.1 184.1 C630.43 183.2 629.63 182.3 628.8 181.4 C627.97 180.5 627.05 179.57 626.1 178.7 C625.15 177.83 624.22 177.15 623.1 176.2 C621.98 175.25 620.42 174.1 619.4 173 C618.38 171.9 617.63 170.72 617 169.6 C616.37 168.48 615.8 167.42 615.6 166.3 C615.4 165.18 615.5 164.03 615.8 162.9 C616.1 161.77 616.75 160.62 617.4 159.5 C618.05 158.38 618.75 157.32 619.7 156.2 C620.65 155.08 621.95 153.93 623.1 152.8 C624.25 151.67 625.48 150.52 626.6 149.4 C627.72 148.28 629.08 147.22 629.8 146.1 C630.52 144.98 630.78 143.78 630.9 142.7 C631.02 141.62 630.8 140.53 630.5 139.6 C630.2 138.67 629.67 137.97 629.1 137.1 C628.53 136.23 627.83 135.3 627.1 134.4 C626.37 133.5 625.5 132.6 624.7 131.7 C623.9 130.8 623.08 129.9 622.3 129 C621.52 128.1 620.55 127.2 620 126.3 C619.45 125.4 619.05 124.5 619 123.6 C618.95 122.7 619.18 121.8 619.7 120.9 C620.22 120 621.28 119.08 622.1 118.2 C622.92 117.32 623.72 116.48 624.6 115.6 C625.48 114.72 626.48 113.8 627.4 112.9 C628.32 112 629.32 111.1 630.1 110.2 C630.88 109.3 631.53 108.4 632.1 107.5 C632.67 106.6 633.16 105.48 633.5 104.8 C633.84 104.12 633.97 103.87 634.12 103.4 C634.27 102.93 634.34 102.47 634.4 102 C634.46 101.53 634.5 101.3 634.5 100.6 L634.5 93" fill="none" stroke="#3b66a6" stroke-width="1.55" stroke-linejoin="round"/>
<line x1="90.66" y1="458.65" x2="123.34" y2="458.65" class="md"/>
<line x1="100.67" y1="434.7" x2="113.33" y2="434.7" class="qt"/>
<line x1="89.04" y1="468.95" x2="124.96" y2="468.95" class="qt"/>
<path d="M107 398.75 L107 406.85 C107 407.37 107.04 407.54 107.1 407.88 C107.16 408.23 107.23 408.57 107.38 408.92 C107.53 409.26 107.75 409.41 108 409.95 C108.25 410.49 108.5 411.43 108.9 412.15 C109.3 412.87 109.85 413.53 110.4 414.25 C110.95 414.97 111.65 415.72 112.2 416.45 C112.75 417.18 113.27 417.92 113.7 418.65 C114.13 419.38 114.52 420.12 114.8 420.85 C115.08 421.58 115.28 422.28 115.4 423.05 C115.52 423.82 115.67 424.55 115.5 425.45 C115.33 426.35 114.82 427.38 114.4 428.45 C113.98 429.52 113.28 430.83 113 431.85 C112.72 432.87 112.65 433.65 112.7 434.55 C112.75 435.45 112.88 436.02 113.3 437.25 C113.72 438.48 114.7 440.62 115.25 441.95 C115.8 443.28 116.21 444.13 116.6 445.25 C116.99 446.37 117.2 447.52 117.6 448.65 C118 449.78 118.52 450.93 119 452.05 C119.48 453.17 119.9 454.23 120.5 455.35 C121.1 456.47 121.88 457.63 122.6 458.75 C123.32 459.87 124.2 460.97 124.8 462.05 C125.4 463.13 126.2 464.18 126.2 465.25 C126.2 466.32 125.43 467.47 124.8 468.45 C124.17 469.43 123.37 470.25 122.4 471.15 C121.43 472.05 120.12 472.95 119 473.85 C117.88 474.75 116.89 475.53 115.7 476.55 C114.51 477.57 112.93 478.83 111.85 479.95 C110.77 481.07 109.89 482.13 109.2 483.25 C108.51 484.37 108.02 485.82 107.7 486.65 C107.38 487.48 107.37 487.72 107.27 488.25 C107.16 488.78 107.11 489.32 107.07 489.85 C107.03 490.38 107 490.65 107 491.45 L107 498.05 L107 491.45 C107 490.65 106.97 490.38 106.93 489.85 C106.89 489.32 106.84 488.78 106.73 488.25 C106.63 487.72 106.62 487.48 106.3 486.65 C105.98 485.82 105.49 484.37 104.8 483.25 C104.11 482.13 103.23 481.07 102.15 479.95 C101.07 478.83 99.49 477.57 98.3 476.55 C97.11 475.53 96.12 474.75 95 473.85 C93.88 472.95 92.57 472.05 91.6 471.15 C90.63 470.25 89.83 469.43 89.2 468.45 C88.57 467.47 87.8 466.32 87.8 465.25 C87.8 464.18 88.6 463.13 89.2 462.05 C89.8 460.97 90.68 459.87 91.4 458.75 C92.12 457.63 92.9 456.47 93.5 455.35 C94.1 454.23 94.52 453.17 95 452.05 C95.48 450.93 96 449.78 96.4 448.65 C96.8 447.52 97.01 446.37 97.4 445.25 C97.79 444.13 98.2 443.28 98.75 441.95 C99.3 440.62 100.28 438.48 100.7 437.25 C101.12 436.02 101.25 435.45 101.3 434.55 C101.35 433.65 101.28 432.87 101 431.85 C100.72 430.83 100.02 429.52 99.6 428.45 C99.18 427.38 98.67 426.35 98.5 425.45 C98.33 424.55 98.48 423.82 98.6 423.05 C98.72 422.28 98.92 421.58 99.2 420.85 C99.48 420.12 99.87 419.38 100.3 418.65 C100.73 417.92 101.25 417.18 101.8 416.45 C102.35 415.72 103.05 414.97 103.6 414.25 C104.15 413.53 104.7 412.87 105.1 412.15 C105.5 411.43 105.75 410.49 106 409.95 C106.25 409.41 106.47 409.26 106.62 408.92 C106.77 408.57 106.84 408.23 106.9 407.88 C106.96 407.54 107 407.37 107 406.85 L107 398.75" fill="none" stroke="#86b83a" stroke-width="1.55" stroke-linejoin="round"/>
<line x1="155.48" y1="458.3" x2="185.32" y2="458.3" class="md"/>
<line x1="151.34" y1="434.5" x2="189.46" y2="434.5" class="qt"/>
<line x1="154.64" y1="479.1" x2="186.16" y2="479.1" class="qt"/>
<path d="M170.4 400.4 L170.4 408.9 C170.4 409.67 170.43 409.92 170.49 410.43 C170.55 410.94 170.61 411.46 170.74 411.97 C170.88 412.48 170.94 412.79 171.3 413.5 C171.66 414.21 172.25 415.32 172.9 416.2 C173.55 417.08 174.3 417.92 175.2 418.8 C176.1 419.68 177.28 420.6 178.3 421.5 C179.32 422.4 180.3 423.3 181.3 424.2 C182.3 425.1 183.35 426 184.3 426.9 C185.25 427.8 186.27 428.7 187 429.6 C187.73 430.5 188.38 431.4 188.7 432.3 C189.02 433.2 188.98 434.1 188.9 435 C188.82 435.9 188.62 436.8 188.2 437.7 C187.78 438.6 186.98 439.5 186.4 440.4 C185.82 441.3 185.27 442.22 184.7 443.1 C184.13 443.98 183.42 444.95 183 445.7 C182.58 446.45 182.4 446.77 182.2 447.6 C182 448.43 181.73 449.62 181.8 450.7 C181.87 451.78 182.2 452.98 182.6 454.1 C183 455.22 183.73 456.28 184.2 457.4 C184.67 458.52 185.05 459.67 185.4 460.8 C185.75 461.93 186.07 463.08 186.3 464.2 C186.53 465.32 186.7 466.38 186.8 467.5 C186.9 468.62 186.92 469.77 186.9 470.9 C186.88 472.03 186.85 473.18 186.7 474.3 C186.55 475.42 186.28 476.48 186 477.6 C185.72 478.72 185.45 479.88 185 481 C184.55 482.12 183.9 483.17 183.3 484.3 C182.7 485.43 182.13 486.65 181.4 487.8 C180.67 488.95 179.73 490.05 178.9 491.2 C178.07 492.35 177.23 493.55 176.4 494.7 C175.57 495.85 174.65 496.98 173.9 498.1 C173.15 499.22 172.4 500.28 171.9 501.4 C171.4 502.52 171.12 504.02 170.9 504.8 C170.68 505.58 170.66 505.67 170.59 506.1 C170.52 506.53 170.48 506.97 170.45 507.4 C170.42 507.83 170.4 508.05 170.4 508.7 L170.4 516.6 L170.4 508.7 C170.4 508.05 170.38 507.83 170.35 507.4 C170.32 506.97 170.28 506.53 170.21 506.1 C170.14 505.67 170.12 505.58 169.9 504.8 C169.68 504.02 169.4 502.52 168.9 501.4 C168.4 500.28 167.65 499.22 166.9 498.1 C166.15 496.98 165.23 495.85 164.4 494.7 C163.57 493.55 162.73 492.35 161.9 491.2 C161.07 490.05 160.13 488.95 159.4 487.8 C158.67 486.65 158.1 485.43 157.5 484.3 C156.9 483.17 156.25 482.12 155.8 481 C155.35 479.88 155.08 478.72 154.8 477.6 C154.52 476.48 154.25 475.42 154.1 474.3 C153.95 473.18 153.92 472.03 153.9 470.9 C153.88 469.77 153.9 468.62 154 467.5 C154.1 466.38 154.27 465.32 154.5 464.2 C154.73 463.08 155.05 461.93 155.4 460.8 C155.75 459.67 156.13 458.52 156.6 457.4 C157.07 456.28 157.8 455.22 158.2 454.1 C158.6 452.98 158.93 451.78 159 450.7 C159.07 449.62 158.8 448.43 158.6 447.6 C158.4 446.77 158.22 446.45 157.8 445.7 C157.38 444.95 156.67 443.98 156.1 443.1 C155.53 442.22 154.98 441.3 154.4 440.4 C153.82 439.5 153.02 438.6 152.6 437.7 C152.18 436.8 151.98 435.9 151.9 435 C151.82 434.1 151.78 433.2 152.1 432.3 C152.42 431.4 153.07 430.5 153.8 429.6 C154.53 428.7 155.55 427.8 156.5 426.9 C157.45 426 158.5 425.1 159.5 424.2 C160.5 423.3 161.48 422.4 162.5 421.5 C163.52 420.6 164.7 419.68 165.6 418.8 C166.5 417.92 167.25 417.08 167.9 416.2 C168.55 415.32 169.14 414.21 169.5 413.5 C169.86 412.79 169.92 412.48 170.06 411.97 C170.19 411.46 170.25 410.94 170.31 410.43 C170.37 409.92 170.4 409.67 170.4 408.9 L170.4 400.4" fill="none" stroke="#ddad3c" stroke-width="1.55" stroke-linejoin="round"/>
<line x1="214.75" y1="492.9" x2="252.97" y2="492.9" class="md"/>
<line x1="220.69" y1="472.4" x2="247.03" y2="472.4" class="qt"/>
<line x1="219.67" y1="506.7" x2="248.05" y2="506.7" class="qt"/>
<path d="M233.86 441 L233.86 447.2 C233.86 447.9 233.91 448.13 233.99 448.6 C234.07 449.07 234.16 449.53 234.35 450 C234.55 450.47 234.68 450.6 235.16 451.4 C235.64 452.2 236.46 453.67 237.26 454.8 C238.06 455.93 238.99 457.08 239.96 458.2 C240.93 459.32 242.16 460.38 243.06 461.5 C243.96 462.62 244.84 463.77 245.36 464.9 C245.88 466.03 245.99 467.18 246.16 468.3 C246.33 469.42 246.28 470.48 246.36 471.6 C246.44 472.72 246.56 473.88 246.66 475 C246.76 476.12 246.84 477.18 246.96 478.3 C247.08 479.42 247.16 480.57 247.36 481.7 C247.56 482.83 247.88 484.12 248.16 485.1 C248.44 486.08 248.54 486.67 249.06 487.6 C249.58 488.53 250.66 489.62 251.26 490.7 C251.86 491.78 252.48 492.98 252.66 494.1 C252.84 495.22 252.69 496.28 252.36 497.4 C252.03 498.52 251.28 499.67 250.66 500.8 C250.04 501.93 249.26 503.08 248.66 504.2 C248.06 505.32 247.46 506.38 247.06 507.5 C246.66 508.62 246.59 509.77 246.26 510.9 C245.93 512.03 245.73 513.18 245.06 514.3 C244.39 515.42 243.18 516.48 242.26 517.6 C241.34 518.72 240.39 519.88 239.56 521 C238.73 522.12 237.98 523.18 237.26 524.3 C236.54 525.42 235.78 526.68 235.26 527.7 C234.74 528.72 234.37 529.77 234.16 530.4 C233.95 531.03 234.02 531.13 233.97 531.5 C233.93 531.87 233.91 532.23 233.89 532.6 C233.87 532.97 233.86 533.15 233.86 533.7 L233.86 538.1 L233.86 533.7 C233.86 533.15 233.85 532.97 233.83 532.6 C233.81 532.23 233.79 531.87 233.75 531.5 C233.7 531.13 233.77 531.03 233.56 530.4 C233.35 529.77 232.98 528.72 232.46 527.7 C231.94 526.68 231.18 525.42 230.46 524.3 C229.74 523.18 228.99 522.12 228.16 521 C227.33 519.88 226.38 518.72 225.46 517.6 C224.54 516.48 223.33 515.42 222.66 514.3 C221.99 513.18 221.79 512.03 221.46 510.9 C221.13 509.77 221.06 508.62 220.66 507.5 C220.26 506.38 219.66 505.32 219.06 504.2 C218.46 503.08 217.68 501.93 217.06 500.8 C216.44 499.67 215.69 498.52 215.36 497.4 C215.03 496.28 214.88 495.22 215.06 494.1 C215.24 492.98 215.86 491.78 216.46 490.7 C217.06 489.62 218.14 488.53 218.66 487.6 C219.18 486.67 219.28 486.08 219.56 485.1 C219.84 484.12 220.16 482.83 220.36 481.7 C220.56 480.57 220.64 479.42 220.76 478.3 C220.88 477.18 220.96 476.12 221.06 475 C221.16 473.88 221.28 472.72 221.36 471.6 C221.44 470.48 221.39 469.42 221.56 468.3 C221.73 467.18 221.84 466.03 222.36 464.9 C222.88 463.77 223.76 462.62 224.66 461.5 C225.56 460.38 226.79 459.32 227.76 458.2 C228.73 457.08 229.66 455.93 230.46 454.8 C231.26 453.67 232.08 452.2 232.56 451.4 C233.04 450.6 233.17 450.47 233.37 450 C233.56 449.53 233.65 449.07 233.73 448.6 C233.81 448.13 233.86 447.9 233.86 447.2 L233.86 441" fill="none" stroke="#480f84" stroke-width="1.55" stroke-linejoin="round"/>
<line x1="282" y1="534.1" x2="312.4" y2="534.1" class="md"/>
<line x1="278.61" y1="523.8" x2="315.79" y2="523.8" class="qt"/>
<line x1="286.46" y1="554.8" x2="307.94" y2="554.8" class="qt"/>
<path d="M297.2 498.4 L297.2 504.6 C297.2 505.3 297.25 505.53 297.33 506 C297.41 506.47 297.5 506.93 297.69 507.4 C297.89 507.87 297.97 508.12 298.5 508.8 C299.03 509.48 299.93 510.6 300.9 511.5 C301.87 512.4 303.12 513.32 304.3 514.2 C305.48 515.08 306.83 515.92 308 516.8 C309.17 517.68 310.25 518.6 311.3 519.5 C312.35 520.4 313.55 521.3 314.3 522.2 C315.05 523.1 315.48 524 315.8 524.9 C316.12 525.8 316.3 526.7 316.2 527.6 C316.1 528.5 315.78 529.4 315.2 530.3 C314.62 531.2 313.57 532.1 312.7 533 C311.83 533.9 310.73 534.8 310 535.7 C309.27 536.6 308.68 537.4 308.3 538.4 C307.92 539.4 307.82 540.47 307.7 541.7 C307.58 542.93 307.63 544.4 307.6 545.8 C307.57 547.2 307.55 548.83 307.5 550.1 C307.45 551.37 307.32 552.28 307.3 553.4 C307.28 554.52 307.42 555.67 307.4 556.8 C307.38 557.93 307.37 559.3 307.2 560.2 C307.03 561.1 306.85 561.42 306.4 562.2 C305.95 562.98 305.28 563.9 304.5 564.9 C303.72 565.9 302.58 567.08 301.7 568.2 C300.82 569.32 299.87 570.47 299.2 571.6 C298.53 572.73 298 574.23 297.7 575 C297.4 575.77 297.46 575.82 297.39 576.23 C297.31 576.64 297.28 577.06 297.25 577.47 C297.22 577.88 297.2 578.08 297.2 578.7 L297.2 583.7 L297.2 578.7 C297.2 578.08 297.18 577.88 297.15 577.47 C297.12 577.06 297.08 576.64 297.01 576.23 C296.94 575.82 297 575.77 296.7 575 C296.4 574.23 295.87 572.73 295.2 571.6 C294.53 570.47 293.58 569.32 292.7 568.2 C291.82 567.08 290.68 565.9 289.9 564.9 C289.12 563.9 288.45 562.98 288 562.2 C287.55 561.42 287.37 561.1 287.2 560.2 C287.03 559.3 287.02 557.93 287 556.8 C286.98 555.67 287.12 554.52 287.1 553.4 C287.08 552.28 286.95 551.37 286.9 550.1 C286.85 548.83 286.83 547.2 286.8 545.8 C286.77 544.4 286.82 542.93 286.7 541.7 C286.58 540.47 286.48 539.4 286.1 538.4 C285.72 537.4 285.13 536.6 284.4 535.7 C283.67 534.8 282.57 533.9 281.7 533 C280.83 532.1 279.78 531.2 279.2 530.3 C278.62 529.4 278.3 528.5 278.2 527.6 C278.1 526.7 278.28 525.8 278.6 524.9 C278.92 524 279.35 523.1 280.1 522.2 C280.85 521.3 282.05 520.4 283.1 519.5 C284.15 518.6 285.23 517.68 286.4 516.8 C287.57 515.92 288.92 515.08 290.1 514.2 C291.28 513.32 292.53 512.4 293.5 511.5 C294.47 510.6 295.37 509.48 295.9 508.8 C296.43 508.12 296.51 507.87 296.71 507.4 C296.9 506.93 296.99 506.47 297.07 506 C297.15 505.53 297.2 505.3 297.2 504.6 L297.2 498.4" fill="none" stroke="#3b66a6" stroke-width="1.55" stroke-linejoin="round"/>
<line x1="427.96" y1="458.65" x2="460.64" y2="458.65" class="md"/>
<line x1="437.97" y1="434.7" x2="450.63" y2="434.7" class="qt"/>
<line x1="426.34" y1="468.95" x2="462.26" y2="468.95" class="qt"/>
<path d="M444.3 398.75 L444.3 406.85 C444.3 407.37 444.34 407.54 444.4 407.88 C444.46 408.23 444.53 408.57 444.68 408.92 C444.83 409.26 445.05 409.41 445.3 409.95 C445.55 410.49 445.8 411.43 446.2 412.15 C446.6 412.87 447.15 413.53 447.7 414.25 C448.25 414.97 448.95 415.72 449.5 416.45 C450.05 417.18 450.57 417.92 451 418.65 C451.43 419.38 451.82 420.12 452.1 420.85 C452.38 421.58 452.58 422.28 452.7 423.05 C452.82 423.82 452.97 424.55 452.8 425.45 C452.63 426.35 452.12 427.38 451.7 428.45 C451.28 429.52 450.58 430.83 450.3 431.85 C450.02 432.87 449.95 433.65 450 434.55 C450.05 435.45 450.18 436.02 450.6 437.25 C451.03 438.48 452 440.62 452.55 441.95 C453.1 443.28 453.51 444.13 453.9 445.25 C454.29 446.37 454.5 447.52 454.9 448.65 C455.3 449.78 455.82 450.93 456.3 452.05 C456.78 453.17 457.2 454.23 457.8 455.35 C458.4 456.47 459.18 457.63 459.9 458.75 C460.62 459.87 461.5 460.97 462.1 462.05 C462.7 463.13 463.5 464.18 463.5 465.25 C463.5 466.32 462.73 467.47 462.1 468.45 C461.47 469.43 460.67 470.25 459.7 471.15 C458.73 472.05 457.42 472.95 456.3 473.85 C455.18 474.75 454.19 475.53 453 476.55 C451.81 477.57 450.23 478.83 449.15 479.95 C448.07 481.07 447.19 482.13 446.5 483.25 C445.81 484.37 445.32 485.82 445 486.65 C444.68 487.48 444.67 487.72 444.57 488.25 C444.46 488.78 444.41 489.32 444.37 489.85 C444.33 490.38 444.3 490.65 444.3 491.45 L444.3 498.05 L444.3 491.45 C444.3 490.65 444.27 490.38 444.23 489.85 C444.19 489.32 444.14 488.78 444.03 488.25 C443.93 487.72 443.92 487.48 443.6 486.65 C443.28 485.82 442.79 484.37 442.1 483.25 C441.41 482.13 440.53 481.07 439.45 479.95 C438.37 478.83 436.79 477.57 435.6 476.55 C434.41 475.53 433.42 474.75 432.3 473.85 C431.18 472.95 429.87 472.05 428.9 471.15 C427.93 470.25 427.13 469.43 426.5 468.45 C425.87 467.47 425.1 466.32 425.1 465.25 C425.1 464.18 425.9 463.13 426.5 462.05 C427.1 460.97 427.98 459.87 428.7 458.75 C429.42 457.63 430.2 456.47 430.8 455.35 C431.4 454.23 431.82 453.17 432.3 452.05 C432.78 450.93 433.3 449.78 433.7 448.65 C434.1 447.52 434.31 446.37 434.7 445.25 C435.09 444.13 435.5 443.28 436.05 441.95 C436.6 440.62 437.57 438.48 438 437.25 C438.43 436.02 438.55 435.45 438.6 434.55 C438.65 433.65 438.58 432.87 438.3 431.85 C438.02 430.83 437.32 429.52 436.9 428.45 C436.48 427.38 435.97 426.35 435.8 425.45 C435.63 424.55 435.78 423.82 435.9 423.05 C436.02 422.28 436.22 421.58 436.5 420.85 C436.78 420.12 437.17 419.38 437.6 418.65 C438.03 417.92 438.55 417.18 439.1 416.45 C439.65 415.72 440.35 414.97 440.9 414.25 C441.45 413.53 442 412.87 442.4 412.15 C442.8 411.43 443.05 410.49 443.3 409.95 C443.55 409.41 443.77 409.26 443.92 408.92 C444.07 408.57 444.14 408.23 444.2 407.88 C444.26 407.54 444.3 407.37 444.3 406.85 L444.3 398.75" fill="none" stroke="#86b83a" stroke-width="1.55" stroke-linejoin="round"/>
<line x1="495.02" y1="444.7" x2="520.44" y2="444.7" class="md"/>
<line x1="489" y1="431.1" x2="526.46" y2="431.1" class="qt"/>
<line x1="495.34" y1="472.4" x2="520.12" y2="472.4" class="qt"/>
<path d="M507.73 402.6 L507.73 409.6 C507.73 410.23 507.76 410.44 507.82 410.87 C507.88 411.29 507.94 411.71 508.07 412.13 C508.21 412.56 508.22 412.74 508.63 413.4 C509.04 414.06 509.76 415.2 510.53 416.1 C511.3 417 512.28 417.9 513.23 418.8 C514.18 419.7 515.21 420.6 516.23 421.5 C517.25 422.4 518.31 423.3 519.33 424.2 C520.35 425.1 521.38 426 522.33 426.9 C523.28 427.8 524.33 428.7 525.03 429.6 C525.73 430.5 526.31 431.4 526.53 432.3 C526.75 433.2 526.6 434.1 526.33 435 C526.06 435.9 525.53 436.82 524.93 437.7 C524.33 438.58 523.43 439.42 522.73 440.3 C522.03 441.18 521.36 442.08 520.73 443 C520.1 443.92 519.58 444.77 518.93 445.8 C518.28 446.83 517.38 448.05 516.83 449.2 C516.28 450.35 515.81 451.55 515.63 452.7 C515.45 453.85 515.58 454.98 515.73 456.1 C515.88 457.22 516.23 458.28 516.53 459.4 C516.83 460.52 517.13 461.67 517.53 462.8 C517.93 463.93 518.61 465.08 518.93 466.2 C519.25 467.32 519.33 468.38 519.43 469.5 C519.53 470.62 519.61 471.77 519.53 472.9 C519.45 474.03 519.2 475.18 518.93 476.3 C518.66 477.42 518.43 478.48 517.93 479.6 C517.43 480.72 516.65 481.88 515.93 483 C515.21 484.12 514.41 485.18 513.63 486.3 C512.85 487.42 511.96 488.57 511.23 489.7 C510.5 490.83 509.73 491.98 509.23 493.1 C508.73 494.22 508.45 495.64 508.23 496.4 C508.01 497.16 508 497.24 507.92 497.67 C507.85 498.09 507.81 498.51 507.78 498.93 C507.75 499.36 507.73 499.57 507.73 500.2 L507.73 507.5 L507.73 500.2 C507.73 499.57 507.71 499.36 507.68 498.93 C507.65 498.51 507.62 498.09 507.54 497.67 C507.47 497.24 507.45 497.16 507.23 496.4 C507.01 495.64 506.73 494.22 506.23 493.1 C505.73 491.98 504.96 490.83 504.23 489.7 C503.5 488.57 502.61 487.42 501.83 486.3 C501.05 485.18 500.25 484.12 499.53 483 C498.81 481.88 498.03 480.72 497.53 479.6 C497.03 478.48 496.8 477.42 496.53 476.3 C496.26 475.18 496.01 474.03 495.93 472.9 C495.85 471.77 495.93 470.62 496.03 469.5 C496.13 468.38 496.21 467.32 496.53 466.2 C496.85 465.08 497.53 463.93 497.93 462.8 C498.33 461.67 498.63 460.52 498.93 459.4 C499.23 458.28 499.58 457.22 499.73 456.1 C499.88 454.98 500.01 453.85 499.83 452.7 C499.65 451.55 499.18 450.35 498.63 449.2 C498.08 448.05 497.18 446.83 496.53 445.8 C495.88 444.77 495.36 443.92 494.73 443 C494.1 442.08 493.43 441.18 492.73 440.3 C492.03 439.42 491.13 438.58 490.53 437.7 C489.93 436.82 489.4 435.9 489.13 435 C488.86 434.1 488.71 433.2 488.93 432.3 C489.15 431.4 489.73 430.5 490.43 429.6 C491.13 428.7 492.18 427.8 493.13 426.9 C494.08 426 495.11 425.1 496.13 424.2 C497.15 423.3 498.21 422.4 499.23 421.5 C500.25 420.6 501.28 419.7 502.23 418.8 C503.18 417.9 504.16 417 504.93 416.1 C505.7 415.2 506.42 414.06 506.83 413.4 C507.24 412.74 507.25 412.56 507.39 412.13 C507.52 411.71 507.58 411.29 507.64 410.87 C507.7 410.44 507.73 410.23 507.73 409.6 L507.73 402.6" fill="none" stroke="#ddad3c" stroke-width="1.55" stroke-linejoin="round"/>
<line x1="552.6" y1="444.7" x2="589.54" y2="444.7" class="md"/>
<line x1="554.63" y1="427.5" x2="587.51" y2="427.5" class="qt"/>
<line x1="558.1" y1="482.6" x2="584.04" y2="482.6" class="qt"/>
<path d="M571.07 377.7 L571.07 388.3 C571.07 389 571.1 389.23 571.15 389.7 C571.2 390.17 571.25 390.63 571.37 391.1 C571.49 391.57 571.64 391.82 571.87 392.5 C572.1 393.18 572.45 394.2 572.77 395.2 C573.09 396.2 573.3 397.38 573.77 398.5 C574.24 399.62 574.95 400.77 575.57 401.9 C576.19 403.03 576.8 404.18 577.47 405.3 C578.14 406.42 578.97 407.48 579.57 408.6 C580.17 409.72 580.55 410.88 581.07 412 C581.59 413.12 582.17 414.18 582.67 415.3 C583.17 416.42 583.65 417.58 584.07 418.7 C584.49 419.82 584.85 421.02 585.17 422 C585.49 422.98 585.67 423.65 585.97 424.6 C586.27 425.55 586.57 426.62 586.97 427.7 C587.37 428.78 587.92 429.98 588.37 431.1 C588.82 432.22 589.39 433.28 589.67 434.4 C589.95 435.52 590.07 436.67 590.07 437.8 C590.07 438.93 589.87 440.08 589.67 441.2 C589.47 442.32 589.37 443.38 588.87 444.5 C588.37 445.62 587.39 446.77 586.67 447.9 C585.95 449.03 585.24 450.18 584.57 451.3 C583.9 452.42 583.15 453.48 582.67 454.6 C582.19 455.72 581.92 456.88 581.67 458 C581.42 459.12 581.19 460.18 581.17 461.3 C581.15 462.42 581.4 463.67 581.57 464.7 C581.74 465.73 581.97 466.55 582.17 467.5 C582.37 468.45 582.59 469.37 582.77 470.4 C582.95 471.43 583.14 472.58 583.27 473.7 C583.4 474.82 583.52 475.98 583.57 477.1 C583.62 478.22 583.6 479.28 583.57 480.4 C583.54 481.52 583.44 482.67 583.37 483.8 C583.3 484.93 583.32 486.08 583.17 487.2 C583.02 488.32 582.75 489.38 582.47 490.5 C582.19 491.62 581.89 492.77 581.47 493.9 C581.05 495.03 580.54 496.18 579.97 497.3 C579.4 498.42 578.64 499.48 578.07 500.6 C577.5 501.72 577.12 502.88 576.57 504 C576.02 505.12 575.29 506.18 574.77 507.3 C574.25 508.42 573.87 509.57 573.47 510.7 C573.07 511.83 572.69 512.98 572.37 514.1 C572.05 515.22 571.77 516.4 571.57 517.4 C571.37 518.4 571.25 519.48 571.17 520.1 C571.09 520.72 571.12 520.79 571.11 521.13 C571.09 521.48 571.09 521.82 571.08 522.17 C571.07 522.51 571.07 522.68 571.07 523.2 L571.07 532.6 L571.07 523.2 C571.07 522.68 571.07 522.51 571.06 522.17 C571.05 521.82 571.05 521.48 571.03 521.13 C571.02 520.79 571.05 520.72 570.97 520.1 C570.89 519.48 570.77 518.4 570.57 517.4 C570.37 516.4 570.09 515.22 569.77 514.1 C569.45 512.98 569.07 511.83 568.67 510.7 C568.27 509.57 567.89 508.42 567.37 507.3 C566.85 506.18 566.12 505.12 565.57 504 C565.02 502.88 564.64 501.72 564.07 500.6 C563.5 499.48 562.74 498.42 562.17 497.3 C561.6 496.18 561.09 495.03 560.67 493.9 C560.25 492.77 559.95 491.62 559.67 490.5 C559.39 489.38 559.12 488.32 558.97 487.2 C558.82 486.08 558.84 484.93 558.77 483.8 C558.7 482.67 558.6 481.52 558.57 480.4 C558.54 479.28 558.52 478.22 558.57 477.1 C558.62 475.98 558.74 474.82 558.87 473.7 C559 472.58 559.19 471.43 559.37 470.4 C559.55 469.37 559.77 468.45 559.97 467.5 C560.17 466.55 560.4 465.73 560.57 464.7 C560.74 463.67 560.99 462.42 560.97 461.3 C560.95 460.18 560.72 459.12 560.47 458 C560.22 456.88 559.95 455.72 559.47 454.6 C558.99 453.48 558.24 452.42 557.57 451.3 C556.9 450.18 556.19 449.03 555.47 447.9 C554.75 446.77 553.77 445.62 553.27 444.5 C552.77 443.38 552.67 442.32 552.47 441.2 C552.27 440.08 552.07 438.93 552.07 437.8 C552.07 436.67 552.19 435.52 552.47 434.4 C552.75 433.28 553.32 432.22 553.77 431.1 C554.22 429.98 554.77 428.78 555.17 427.7 C555.57 426.62 555.87 425.55 556.17 424.6 C556.47 423.65 556.65 422.98 556.97 422 C557.29 421.02 557.65 419.82 558.07 418.7 C558.49 417.58 558.97 416.42 559.47 415.3 C559.97 414.18 560.55 413.12 561.07 412 C561.59 410.88 561.97 409.72 562.57 408.6 C563.17 407.48 564 406.42 564.67 405.3 C565.34 404.18 565.95 403.03 566.57 401.9 C567.19 400.77 567.9 399.62 568.37 398.5 C568.84 397.38 569.05 396.2 569.37 395.2 C569.69 394.2 570.04 393.18 570.27 392.5 C570.5 391.82 570.65 391.57 570.77 391.1 C570.89 390.63 570.94 390.17 570.99 389.7 C571.04 389.23 571.07 389 571.07 388.3 L571.07 377.7" fill="none" stroke="#480f84" stroke-width="1.55" stroke-linejoin="round"/>
<line x1="615.3" y1="499.7" x2="653.76" y2="499.7" class="md"/>
<line x1="631.8" y1="479.2" x2="637.26" y2="479.2" class="qt"/>
<line x1="618.99" y1="510.1" x2="650.07" y2="510.1" class="qt"/>
<path d="M634.53 441 L634.53 447.6 C634.53 448.3 634.57 448.53 634.63 449 C634.69 449.47 634.76 449.93 634.91 450.4 C635.06 450.87 635.19 451.12 635.53 451.8 C635.87 452.48 636.35 453.5 636.93 454.5 C637.51 455.5 638.35 456.68 639.03 457.8 C639.71 458.92 640.45 460.07 641.03 461.2 C641.61 462.33 642.33 463.6 642.53 464.6 C642.73 465.6 642.58 466.2 642.23 467.2 C641.88 468.2 641.1 469.47 640.43 470.6 C639.76 471.73 638.85 472.88 638.23 474 C637.61 475.12 637 476.3 636.73 477.3 C636.46 478.3 636.43 479.1 636.63 480 C636.83 480.9 637.31 481.78 637.93 482.7 C638.55 483.62 639.35 484.52 640.33 485.5 C641.31 486.48 642.56 487.57 643.83 488.6 C645.1 489.63 646.71 490.62 647.93 491.7 C649.15 492.78 650.33 493.98 651.13 495.1 C651.93 496.22 652.36 497.28 652.73 498.4 C653.1 499.52 653.33 500.67 653.33 501.8 C653.33 502.93 653.15 504.08 652.73 505.2 C652.31 506.32 651.63 507.38 650.83 508.5 C650.03 509.62 648.96 510.77 647.93 511.9 C646.9 513.03 645.68 514.18 644.63 515.3 C643.58 516.42 642.58 517.48 641.63 518.6 C640.68 519.72 639.75 520.88 638.93 522 C638.11 523.12 637.31 524.18 636.73 525.3 C636.15 526.42 635.75 527.8 635.43 528.7 C635.11 529.6 634.96 530.18 634.83 530.7 C634.7 531.22 634.69 531.43 634.64 531.8 C634.6 532.17 634.58 532.53 634.56 532.9 C634.54 533.27 634.53 533.45 634.53 534 L634.53 538.5 L634.53 534 C634.53 533.45 634.52 533.27 634.5 532.9 C634.48 532.53 634.46 532.17 634.42 531.8 C634.37 531.43 634.36 531.22 634.23 530.7 C634.1 530.18 633.95 529.6 633.63 528.7 C633.31 527.8 632.91 526.42 632.33 525.3 C631.75 524.18 630.95 523.12 630.13 522 C629.31 520.88 628.38 519.72 627.43 518.6 C626.48 517.48 625.48 516.42 624.43 515.3 C623.38 514.18 622.16 513.03 621.13 511.9 C620.1 510.77 619.03 509.62 618.23 508.5 C617.43 507.38 616.75 506.32 616.33 505.2 C615.91 504.08 615.73 502.93 615.73 501.8 C615.73 500.67 615.96 499.52 616.33 498.4 C616.7 497.28 617.13 496.22 617.93 495.1 C618.73 493.98 619.91 492.78 621.13 491.7 C622.35 490.62 623.96 489.63 625.23 488.6 C626.5 487.57 627.75 486.48 628.73 485.5 C629.71 484.52 630.51 483.62 631.13 482.7 C631.75 481.78 632.23 480.9 632.43 480 C632.63 479.1 632.6 478.3 632.33 477.3 C632.06 476.3 631.45 475.12 630.83 474 C630.21 472.88 629.3 471.73 628.63 470.6 C627.96 469.47 627.18 468.2 626.83 467.2 C626.48 466.2 626.33 465.6 626.53 464.6 C626.73 463.6 627.45 462.33 628.03 461.2 C628.61 460.07 629.35 458.92 630.03 457.8 C630.71 456.68 631.55 455.5 632.13 454.5 C632.71 453.5 633.19 452.48 633.53 451.8 C633.87 451.12 634 450.87 634.15 450.4 C634.3 449.93 634.37 449.47 634.43 449 C634.49 448.53 634.53 448.3 634.53 447.6 L634.53 441" fill="none" stroke="#3b66a6" stroke-width="1.55" stroke-linejoin="round"/>
<line x1="90.66" y1="806.6" x2="123.34" y2="806.6" class="md"/>
<line x1="100.67" y1="782.65" x2="113.33" y2="782.65" class="qt"/>
<line x1="89.04" y1="816.9" x2="124.96" y2="816.9" class="qt"/>
<path d="M107 746.7 L107 754.8 C107 755.32 107.04 755.49 107.1 755.83 C107.16 756.18 107.23 756.52 107.38 756.87 C107.53 757.21 107.75 757.36 108 757.9 C108.25 758.44 108.5 759.38 108.9 760.1 C109.3 760.82 109.85 761.48 110.4 762.2 C110.95 762.92 111.65 763.67 112.2 764.4 C112.75 765.13 113.27 765.87 113.7 766.6 C114.13 767.33 114.52 768.07 114.8 768.8 C115.08 769.53 115.28 770.23 115.4 771 C115.52 771.77 115.67 772.5 115.5 773.4 C115.33 774.3 114.82 775.33 114.4 776.4 C113.98 777.47 113.28 778.78 113 779.8 C112.72 780.82 112.65 781.6 112.7 782.5 C112.75 783.4 112.88 783.97 113.3 785.2 C113.72 786.43 114.7 788.57 115.25 789.9 C115.8 791.23 116.21 792.08 116.6 793.2 C116.99 794.32 117.2 795.47 117.6 796.6 C118 797.73 118.52 798.88 119 800 C119.48 801.12 119.9 802.18 120.5 803.3 C121.1 804.42 121.88 805.58 122.6 806.7 C123.32 807.82 124.2 808.92 124.8 810 C125.4 811.08 126.2 812.13 126.2 813.2 C126.2 814.27 125.43 815.42 124.8 816.4 C124.17 817.38 123.37 818.2 122.4 819.1 C121.43 820 120.12 820.9 119 821.8 C117.88 822.7 116.89 823.48 115.7 824.5 C114.51 825.52 112.93 826.78 111.85 827.9 C110.77 829.02 109.89 830.08 109.2 831.2 C108.51 832.32 108.02 833.77 107.7 834.6 C107.38 835.43 107.37 835.67 107.27 836.2 C107.16 836.73 107.11 837.27 107.07 837.8 C107.03 838.33 107 838.6 107 839.4 L107 846 L107 839.4 C107 838.6 106.97 838.33 106.93 837.8 C106.89 837.27 106.84 836.73 106.73 836.2 C106.63 835.67 106.62 835.43 106.3 834.6 C105.98 833.77 105.49 832.32 104.8 831.2 C104.11 830.08 103.23 829.02 102.15 827.9 C101.07 826.78 99.49 825.52 98.3 824.5 C97.11 823.48 96.12 822.7 95 821.8 C93.88 820.9 92.57 820 91.6 819.1 C90.63 818.2 89.83 817.38 89.2 816.4 C88.57 815.42 87.8 814.27 87.8 813.2 C87.8 812.13 88.6 811.08 89.2 810 C89.8 808.92 90.68 807.82 91.4 806.7 C92.12 805.58 92.9 804.42 93.5 803.3 C94.1 802.18 94.52 801.12 95 800 C95.48 798.88 96 797.73 96.4 796.6 C96.8 795.47 97.01 794.32 97.4 793.2 C97.79 792.08 98.2 791.23 98.75 789.9 C99.3 788.57 100.28 786.43 100.7 785.2 C101.12 783.97 101.25 783.4 101.3 782.5 C101.35 781.6 101.28 780.82 101 779.8 C100.72 778.78 100.02 777.47 99.6 776.4 C99.18 775.33 98.67 774.3 98.5 773.4 C98.33 772.5 98.48 771.77 98.6 771 C98.72 770.23 98.92 769.53 99.2 768.8 C99.48 768.07 99.87 767.33 100.3 766.6 C100.73 765.87 101.25 765.13 101.8 764.4 C102.35 763.67 103.05 762.92 103.6 762.2 C104.15 761.48 104.7 760.82 105.1 760.1 C105.5 759.38 105.75 758.44 106 757.9 C106.25 757.36 106.47 757.21 106.62 756.87 C106.77 756.52 106.84 756.18 106.9 755.83 C106.96 755.49 107 755.32 107 754.8 L107 746.7" fill="none" stroke="#86b83a" stroke-width="1.55" stroke-linejoin="round"/>
<line x1="154.34" y1="813.4" x2="186.46" y2="813.4" class="md"/>
<line x1="156.83" y1="775.6" x2="183.97" y2="775.6" class="qt"/>
<line x1="152.24" y1="834" x2="188.56" y2="834" class="qt"/>
<path d="M170.4 724.4 L170.4 734.6 C170.4 735.3 170.43 735.53 170.48 736 C170.53 736.47 170.58 736.93 170.7 737.4 C170.82 737.87 170.95 738 171.2 738.8 C171.45 739.6 171.83 741.08 172.2 742.2 C172.57 743.32 172.9 744.38 173.4 745.5 C173.9 746.62 174.62 747.77 175.2 748.9 C175.78 750.03 176.33 751.18 176.9 752.3 C177.47 753.42 178.08 754.48 178.6 755.6 C179.12 756.72 179.53 757.88 180 759 C180.47 760.12 181 761.18 181.4 762.3 C181.8 763.42 182.12 764.57 182.4 765.7 C182.68 766.83 182.95 768.05 183.1 769.1 C183.25 770.15 183.25 771.07 183.3 772 C183.35 772.93 183.4 773.68 183.4 774.7 C183.4 775.72 183.37 776.98 183.3 778.1 C183.23 779.22 183.17 780.28 183 781.4 C182.83 782.52 182.57 783.67 182.3 784.8 C182.03 785.93 181.67 787.08 181.4 788.2 C181.13 789.32 180.9 790.38 180.7 791.5 C180.5 792.62 180.27 793.77 180.2 794.9 C180.13 796.03 180.13 797.18 180.3 798.3 C180.47 799.42 180.9 800.48 181.2 801.6 C181.5 802.72 181.7 803.88 182.1 805 C182.5 806.12 183.12 807.18 183.6 808.3 C184.08 809.42 184.57 810.62 185 811.7 C185.43 812.78 185.8 813.82 186.2 814.8 C186.6 815.78 186.97 816.6 187.4 817.6 C187.83 818.6 188.47 819.68 188.8 820.8 C189.13 821.92 189.3 823.15 189.4 824.3 C189.5 825.45 189.48 826.57 189.4 827.7 C189.32 828.83 189.17 829.97 188.9 831.1 C188.63 832.23 188.27 833.35 187.8 834.5 C187.33 835.65 186.73 836.85 186.1 838 C185.47 839.15 184.75 840.27 184 841.4 C183.25 842.53 182.4 843.67 181.6 844.8 C180.8 845.93 179.98 847.05 179.2 848.2 C178.42 849.35 177.65 850.55 176.9 851.7 C176.15 852.85 175.33 853.97 174.7 855.1 C174.07 856.23 173.58 857.37 173.1 858.5 C172.62 859.63 172.15 860.75 171.8 861.9 C171.45 863.05 171.2 864.37 171 865.4 C170.8 866.43 170.69 867.48 170.6 868.1 C170.51 868.72 170.51 868.79 170.48 869.13 C170.45 869.48 170.43 869.82 170.42 870.17 C170.41 870.51 170.4 870.68 170.4 871.2 L170.4 882.2 L170.4 871.2 C170.4 870.68 170.39 870.51 170.38 870.17 C170.37 869.82 170.35 869.48 170.32 869.13 C170.29 868.79 170.29 868.72 170.2 868.1 C170.11 867.48 170 866.43 169.8 865.4 C169.6 864.37 169.35 863.05 169 861.9 C168.65 860.75 168.18 859.63 167.7 858.5 C167.22 857.37 166.73 856.23 166.1 855.1 C165.47 853.97 164.65 852.85 163.9 851.7 C163.15 850.55 162.38 849.35 161.6 848.2 C160.82 847.05 160 845.93 159.2 844.8 C158.4 843.67 157.55 842.53 156.8 841.4 C156.05 840.27 155.33 839.15 154.7 838 C154.07 836.85 153.47 835.65 153 834.5 C152.53 833.35 152.17 832.23 151.9 831.1 C151.63 829.97 151.48 828.83 151.4 827.7 C151.32 826.57 151.3 825.45 151.4 824.3 C151.5 823.15 151.67 821.92 152 820.8 C152.33 819.68 152.97 818.6 153.4 817.6 C153.83 816.6 154.2 815.78 154.6 814.8 C155 813.82 155.37 812.78 155.8 811.7 C156.23 810.62 156.72 809.42 157.2 808.3 C157.68 807.18 158.3 806.12 158.7 805 C159.1 803.88 159.3 802.72 159.6 801.6 C159.9 800.48 160.33 799.42 160.5 798.3 C160.67 797.18 160.67 796.03 160.6 794.9 C160.53 793.77 160.3 792.62 160.1 791.5 C159.9 790.38 159.67 789.32 159.4 788.2 C159.13 787.08 158.77 785.93 158.5 784.8 C158.23 783.67 157.97 782.52 157.8 781.4 C157.63 780.28 157.57 779.22 157.5 778.1 C157.43 776.98 157.4 775.72 157.4 774.7 C157.4 773.68 157.45 772.93 157.5 772 C157.55 771.07 157.55 770.15 157.7 769.1 C157.85 768.05 158.12 766.83 158.4 765.7 C158.68 764.57 159 763.42 159.4 762.3 C159.8 761.18 160.33 760.12 160.8 759 C161.27 757.88 161.68 756.72 162.2 755.6 C162.72 754.48 163.33 753.42 163.9 752.3 C164.47 751.18 165.02 750.03 165.6 748.9 C166.18 747.77 166.9 746.62 167.4 745.5 C167.9 744.38 168.23 743.32 168.6 742.2 C168.97 741.08 169.35 739.6 169.6 738.8 C169.85 738 169.98 737.87 170.1 737.4 C170.22 736.93 170.27 736.47 170.32 736 C170.37 735.53 170.4 735.3 170.4 734.6 L170.4 724.4" fill="none" stroke="#ddad3c" stroke-width="1.55" stroke-linejoin="round"/>
<line x1="214.96" y1="813.2" x2="252.76" y2="813.2" class="md"/>
<line x1="220.38" y1="827.2" x2="247.34" y2="827.2" class="qt"/>
<path d="M233.86 741.4 L233.86 750.9 C233.86 751.6 233.89 751.83 233.94 752.3 C233.99 752.77 234.04 753.23 234.16 753.7 C234.28 754.17 234.34 754.3 234.66 755.1 C234.98 755.9 235.59 757.37 236.06 758.5 C236.53 759.63 236.96 760.78 237.46 761.9 C237.96 763.02 238.61 764.08 239.06 765.2 C239.51 766.32 239.94 767.47 240.16 768.6 C240.38 769.73 240.43 770.88 240.36 772 C240.29 773.12 240.06 774.18 239.76 775.3 C239.46 776.42 238.98 777.58 238.56 778.7 C238.14 779.82 237.69 780.92 237.26 782 C236.83 783.08 236.31 784.1 235.96 785.2 C235.61 786.3 235.31 787.52 235.16 788.6 C235.01 789.68 234.98 790.62 235.06 791.7 C235.14 792.78 235.26 793.98 235.66 795.1 C236.06 796.22 236.53 797.28 237.46 798.4 C238.39 799.52 239.96 800.67 241.26 801.8 C242.56 802.93 243.98 804.08 245.26 805.2 C246.54 806.32 247.93 807.38 248.96 808.5 C249.99 809.62 250.83 810.77 251.46 811.9 C252.09 813.03 252.64 814.18 252.76 815.3 C252.88 816.42 252.54 817.48 252.16 818.6 C251.78 819.72 251.18 820.88 250.46 822 C249.74 823.12 248.63 824.18 247.86 825.3 C247.09 826.42 246.43 827.75 245.86 828.7 C245.29 829.65 244.96 830.22 244.46 831 C243.96 831.78 243.48 832.45 242.86 833.4 C242.24 834.35 241.48 835.58 240.76 836.7 C240.04 837.82 239.21 838.98 238.56 840.1 C237.91 841.22 237.36 842.28 236.86 843.4 C236.36 844.52 235.94 845.67 235.56 846.8 C235.18 847.93 234.81 849.3 234.56 850.2 C234.31 851.1 234.16 851.7 234.06 852.2 C233.96 852.7 233.97 852.87 233.94 853.2 C233.91 853.53 233.89 853.87 233.88 854.2 C233.87 854.53 233.86 854.7 233.86 855.2 L233.86 864.6 L233.86 855.2 C233.86 854.7 233.85 854.53 233.84 854.2 C233.83 853.87 233.81 853.53 233.78 853.2 C233.75 852.87 233.76 852.7 233.66 852.2 C233.56 851.7 233.41 851.1 233.16 850.2 C232.91 849.3 232.54 847.93 232.16 846.8 C231.78 845.67 231.36 844.52 230.86 843.4 C230.36 842.28 229.81 841.22 229.16 840.1 C228.51 838.98 227.68 837.82 226.96 836.7 C226.24 835.58 225.48 834.35 224.86 833.4 C224.24 832.45 223.76 831.78 223.26 831 C222.76 830.22 222.43 829.65 221.86 828.7 C221.29 827.75 220.63 826.42 219.86 825.3 C219.09 824.18 217.98 823.12 217.26 822 C216.54 820.88 215.94 819.72 215.56 818.6 C215.18 817.48 214.84 816.42 214.96 815.3 C215.08 814.18 215.63 813.03 216.26 811.9 C216.89 810.77 217.73 809.62 218.76 808.5 C219.79 807.38 221.18 806.32 222.46 805.2 C223.74 804.08 225.16 802.93 226.46 801.8 C227.76 800.67 229.33 799.52 230.26 798.4 C231.19 797.28 231.66 796.22 232.06 795.1 C232.46 793.98 232.58 792.78 232.66 791.7 C232.74 790.62 232.71 789.68 232.56 788.6 C232.41 787.52 232.11 786.3 231.76 785.2 C231.41 784.1 230.89 783.08 230.46 782 C230.03 780.92 229.58 779.82 229.16 778.7 C228.74 777.58 228.26 776.42 227.96 775.3 C227.66 774.18 227.43 773.12 227.36 772 C227.29 770.88 227.34 769.73 227.56 768.6 C227.78 767.47 228.21 766.32 228.66 765.2 C229.11 764.08 229.76 763.02 230.26 761.9 C230.76 760.78 231.19 759.63 231.66 758.5 C232.13 757.37 232.74 755.9 233.06 755.1 C233.38 754.3 233.44 754.17 233.56 753.7 C233.68 753.23 233.73 752.77 233.78 752.3 C233.83 751.83 233.86 751.6 233.86 750.9 L233.86 741.4" fill="none" stroke="#480f84" stroke-width="1.55" stroke-linejoin="round"/>
<line x1="278.02" y1="833.9" x2="316.38" y2="833.9" class="md"/>
<line x1="278.43" y1="830.7" x2="315.97" y2="830.7" class="qt"/>
<line x1="290" y1="854.4" x2="304.4" y2="854.4" class="qt"/>
<path d="M297.2 809 L297.2 813.2 C297.2 813.8 297.24 814 297.3 814.4 C297.36 814.8 297.43 815.2 297.58 815.6 C297.73 816 297.7 816.17 298.2 816.8 C298.7 817.43 299.58 818.52 300.6 819.4 C301.62 820.28 303.02 821.2 304.3 822.1 C305.58 823 306.97 823.9 308.3 824.8 C309.63 825.7 311.15 826.6 312.3 827.5 C313.45 828.4 314.57 829.3 315.2 830.2 C315.83 831.1 316.18 832 316.1 832.9 C316.02 833.8 315.62 834.7 314.7 835.6 C313.78 836.5 311.87 837.4 310.6 838.3 C309.33 839.2 307.9 840.17 307.1 841 C306.3 841.83 306.1 842.52 305.8 843.3 C305.5 844.08 305.47 844.8 305.3 845.7 C305.13 846.6 305.05 847.63 304.8 848.7 C304.55 849.77 303.97 850.98 303.8 852.1 C303.63 853.22 303.6 854.28 303.8 855.4 C304 856.52 304.93 857.67 305 858.8 C305.07 859.93 304.67 861.08 304.2 862.2 C303.73 863.32 302.95 864.38 302.2 865.5 C301.45 866.62 300.42 867.77 299.7 868.9 C298.98 870.03 298.28 871.4 297.9 872.3 C297.52 873.2 297.5 873.81 297.4 874.3 C297.3 874.79 297.31 874.94 297.28 875.27 C297.25 875.59 297.23 875.91 297.22 876.23 C297.21 876.56 297.2 876.72 297.2 877.2 L297.2 879.7 L297.2 877.2 C297.2 876.72 297.19 876.56 297.18 876.23 C297.17 875.91 297.15 875.59 297.12 875.27 C297.09 874.94 297.1 874.79 297 874.3 C296.9 873.81 296.88 873.2 296.5 872.3 C296.12 871.4 295.42 870.03 294.7 868.9 C293.98 867.77 292.95 866.62 292.2 865.5 C291.45 864.38 290.67 863.32 290.2 862.2 C289.73 861.08 289.33 859.93 289.4 858.8 C289.47 857.67 290.4 856.52 290.6 855.4 C290.8 854.28 290.77 853.22 290.6 852.1 C290.43 850.98 289.85 849.77 289.6 848.7 C289.35 847.63 289.27 846.6 289.1 845.7 C288.93 844.8 288.9 844.08 288.6 843.3 C288.3 842.52 288.1 841.83 287.3 841 C286.5 840.17 285.07 839.2 283.8 838.3 C282.53 837.4 280.62 836.5 279.7 835.6 C278.78 834.7 278.38 833.8 278.3 832.9 C278.22 832 278.57 831.1 279.2 830.2 C279.83 829.3 280.95 828.4 282.1 827.5 C283.25 826.6 284.77 825.7 286.1 824.8 C287.43 823.9 288.82 823 290.1 822.1 C291.38 821.2 292.78 820.28 293.8 819.4 C294.82 818.52 295.7 817.43 296.2 816.8 C296.7 816.17 296.67 816 296.82 815.6 C296.97 815.2 297.04 814.8 297.1 814.4 C297.16 814 297.2 813.8 297.2 813.2 L297.2 809" fill="none" stroke="#3b66a6" stroke-width="1.55" stroke-linejoin="round"/>
<text x="570.95" y="104.4" class="st" text-anchor="middle">*</text>
<text x="634.4" y="82.8" class="st" text-anchor="middle">*</text>
<text x="233.75" y="433.8" class="st" text-anchor="middle">*</text>
<text x="293.6" y="489.8" class="st" text-anchor="middle">*</text>
<text x="300.8" y="489.8" class="st" text-anchor="middle">*</text>
<text x="634.4" y="432.6" class="st" text-anchor="middle">*</text>
<text x="296.9" y="800.6" class="st" text-anchor="middle">*</text>
<text x="357.2" y="709.7" class="pl">f</text>
<defs><clipPath id="pc"><rect x="374" y="703" width="304" height="214.5"/></clipPath>
<linearGradient id="bg" x1="0" y1="0" x2="1" y2="1"><stop offset="0" stop-color="#80887e"/><stop offset="0.5" stop-color="#868e83"/><stop offset="1" stop-color="#878e84"/></linearGradient>
<radialGradient id="yk" cx="0.45" cy="0.62" r="0.62"><stop offset="0" stop-color="#7f8457"/><stop offset="0.55" stop-color="#7b7f54"/><stop offset="0.85" stop-color="#5e6142"/><stop offset="1" stop-color="#3a3b2e"/></radialGradient>
<linearGradient id="dg" x1="0" y1="0" x2="0" y2="1"><stop offset="0" stop-color="#6c6a26"/><stop offset="0.45" stop-color="#60613c"/><stop offset="1" stop-color="#46482f"/></linearGradient>
<linearGradient id="tg" x1="0" y1="0" x2="0" y2="1"><stop offset="0" stop-color="#767b40"/><stop offset="0.5" stop-color="#7a8048"/><stop offset="1" stop-color="#7e846a"/></linearGradient>
<filter id="b1" filterUnits="userSpaceOnUse" x="364" y="693" width="324" height="234"><feGaussianBlur stdDeviation="0.9"/></filter>
<filter id="b15" filterUnits="userSpaceOnUse" x="364" y="693" width="324" height="234"><feGaussianBlur stdDeviation="1.4"/></filter>
<filter id="b2" filterUnits="userSpaceOnUse" x="364" y="693" width="324" height="234"><feGaussianBlur stdDeviation="2"/></filter>
<filter id="b3" filterUnits="userSpaceOnUse" x="364" y="693" width="324" height="234"><feGaussianBlur stdDeviation="3.5"/></filter>
<filter id="b5" filterUnits="userSpaceOnUse" x="364" y="693" width="324" height="234"><feGaussianBlur stdDeviation="5"/></filter>
<clipPath id="bodyclip"><path d="M393.5 781 C393.7 777.2 394.6 771.8 396 768 C397.4 764.2 399.3 761.3 402 758.5 C404.7 755.7 408.2 752.9 412 751 C415.8 749.1 420.3 747.7 425 747.3 C429.7 746.9 435 747.5 440 748.5 C445 749.5 449.2 751.5 455 753 C460.8 754.5 467.3 755.1 475 757.5 C482.7 759.9 492.2 763.8 501 767.5 C509.8 771.2 518.2 775 528 780 C537.8 785 552 793.2 560 797.5 C568 801.8 570.7 803.5 576 806 C581.3 808.5 586.7 810.1 592 812.5 C597.3 814.9 602.7 817.9 608 820.5 C613.3 823.1 619.5 826.2 624 828 C628.5 829.8 632.3 832.2 635 831.5 C637.7 830.8 638 825 640 823.5 C642 822 644.8 821.8 647 822.5 C649.2 823.2 651.2 825.8 653 828 C654.8 830.2 656.1 833.5 658 836 C659.9 838.5 663.7 840.9 664.5 843 C665.3 845.1 664.3 846.8 663 848.5 C661.7 850.2 660.3 852.5 656.5 853.5 C652.7 854.5 645.8 854.8 640.4 854.5 C635 854.2 629.7 852.8 624.3 852 C618.9 851.2 613.6 850 608.2 849.5 C602.9 849 597.6 848.4 592.2 848.7 C586.8 849 581.4 850 576 851.1 C570.6 852.2 566 853.7 560 855.5 C554 857.3 546 859.2 540 862 C534 864.8 529 869.6 524 872.5 C519 875.4 515.2 878.1 510 879.5 C504.8 880.9 498.4 881.5 492.6 881 C486.8 880.5 479.4 878.4 475 876.5 C470.6 874.6 468.5 871.8 466 869.5 C463.5 867.2 462.9 863.4 460 862.5 C457.1 861.6 452 864.1 448.5 864 C445 863.9 441.9 863.2 439 862 C436.1 860.8 433.3 858.7 431 856.5 C428.7 854.3 426.8 852 425 849 C423.2 846 421.4 841.8 420.4 838.5 C419.4 835.2 419.2 832.1 419.2 829 C419.2 825.9 421.4 821.1 420.5 820 C419.6 818.9 415.8 822.3 414 822.5 C412.2 822.7 411 822.8 409.5 821 C408 819.2 406.7 815.5 405 812 C403.3 808.5 401.2 803.5 399.5 800 C397.8 796.5 396 794.2 395 791 C394 787.8 393.3 784.8 393.5 781Z"/></clipPath>
</defs>
<g clip-path="url(#pc)">
<rect x="374" y="703" width="304" height="214.5" fill="url(#bg)"/>
<path d="M393.5 781 C393.7 777.2 394.6 771.8 396 768 C397.4 764.2 399.3 761.3 402 758.5 C404.7 755.7 408.2 752.9 412 751 C415.8 749.1 420.3 747.7 425 747.3 C429.7 746.9 435 747.5 440 748.5 C445 749.5 449.2 751.5 455 753 C460.8 754.5 467.3 755.1 475 757.5 C482.7 759.9 492.2 763.8 501 767.5 C509.8 771.2 518.2 775 528 780 C537.8 785 552 793.2 560 797.5 C568 801.8 570.7 803.5 576 806 C581.3 808.5 586.7 810.1 592 812.5 C597.3 814.9 602.7 817.9 608 820.5 C613.3 823.1 619.5 826.2 624 828 C628.5 829.8 632.3 832.2 635 831.5 C637.7 830.8 638 825 640 823.5 C642 822 644.8 821.8 647 822.5 C649.2 823.2 651.2 825.8 653 828 C654.8 830.2 656.1 833.5 658 836 C659.9 838.5 663.7 840.9 664.5 843 C665.3 845.1 664.3 846.8 663 848.5 C661.7 850.2 660.3 852.5 656.5 853.5 C652.7 854.5 645.8 854.8 640.4 854.5 C635 854.2 629.7 852.8 624.3 852 C618.9 851.2 613.6 850 608.2 849.5 C602.9 849 597.6 848.4 592.2 848.7 C586.8 849 581.4 850 576 851.1 C570.6 852.2 566 853.7 560 855.5 C554 857.3 546 859.2 540 862 C534 864.8 529 869.6 524 872.5 C519 875.4 515.2 878.1 510 879.5 C504.8 880.9 498.4 881.5 492.6 881 C486.8 880.5 479.4 878.4 475 876.5 C470.6 874.6 468.5 871.8 466 869.5 C463.5 867.2 462.9 863.4 460 862.5 C457.1 861.6 452 864.1 448.5 864 C445 863.9 441.9 863.2 439 862 C436.1 860.8 433.3 858.7 431 856.5 C428.7 854.3 426.8 852 425 849 C423.2 846 421.4 841.8 420.4 838.5 C419.4 835.2 419.2 832.1 419.2 829 C419.2 825.9 421.4 821.1 420.5 820 C419.6 818.9 415.8 822.3 414 822.5 C412.2 822.7 411 822.8 409.5 821 C408 819.2 406.7 815.5 405 812 C403.3 808.5 401.2 803.5 399.5 800 C397.8 796.5 396 794.2 395 791 C394 787.8 393.3 784.8 393.5 781Z" fill="#6a6e46" stroke="#34352c" stroke-width="1.3" filter="url(#b1)"/>
<g clip-path="url(#bodyclip)">
<path d="M440 749 C443.2 747 449.2 751.6 455 753 C460.8 754.4 467.3 755.1 475 757.5 C482.7 759.9 492.2 763.8 501 767.5 C509.8 771.2 518.2 775 528 780 C537.8 785 552 793.2 560 797.5 C568 801.8 570.7 803.5 576 806 C581.3 808.5 586.7 810.1 592 812.5 C597.3 814.9 602.7 817.9 608 820.5 C613.3 823.1 618.7 825.8 624 828 C629.3 830.2 634.8 832 640 834 C645.2 836 655 838.7 655 840 C655 841.3 645.8 842.2 640 842 C634.2 841.8 626.7 840.3 620 839 C613.3 837.7 606.7 835.8 600 834 C593.3 832.2 586.7 830.2 580 828 C573.3 825.8 566.7 823.8 560 821 C553.3 818.2 546.7 814.5 540 811 C533.3 807.5 526.7 803.3 520 800 C513.3 796.7 507 793.3 500 791 C493 788.7 485 787.3 478 786 C471 784.7 464.3 783.8 458 783 C451.7 782.2 443.7 784 440 781 C436.3 778 436 770.3 436 765 C436 759.7 436.8 751 440 749Z" fill="url(#dg)" filter="url(#b15)"/>
<path d="M532 803 C532 791.2 540.3 789.9 545 789 C549.7 788.1 554.8 794.7 560 797.5 C565.2 800.3 570.7 803.5 576 806 C581.3 808.5 586.7 810.1 592 812.5 C597.3 814.9 602.7 817.9 608 820.5 C613.3 823.1 619.5 826.2 624 828 C628.5 829.8 632.3 832.2 635 831.5 C637.7 830.8 638 825 640 823.5 C642 822 644.8 821.8 647 822.5 C649.2 823.2 651.2 825.8 653 828 C654.8 830.2 656.1 833.5 658 836 C659.9 838.5 663.7 840.9 664.5 843 C665.3 845.1 664.3 846.8 663 848.5 C661.7 850.2 660.3 852.5 656.5 853.5 C652.7 854.5 645.8 854.8 640.4 854.5 C635 854.2 629.7 852.8 624.3 852 C618.9 851.2 613.6 850 608.2 849.5 C602.9 849 597.6 848.4 592.2 848.7 C586.8 849 581.4 850 576 851.1 C570.6 852.2 565.2 854 560 855.5 C554.8 857 549.7 868.8 545 860 C540.3 851.2 532 814.8 532 803Z" fill="url(#tg)" filter="url(#b2)"/>
<path d="M463 815 C465 809.2 467.8 803.2 472 800 C476.2 796.8 482.5 796 488 796 C493.5 796 499.3 797.7 505 800 C510.7 802.3 516.8 805.7 522 810 C527.2 814.3 532.3 820.5 536 826 C539.7 831.5 542.5 837.7 544 843 C545.5 848.3 546.5 853.5 545 858 C543.5 862.5 539.2 866.7 535 870 C530.8 873.3 525.8 876.2 520 878 C514.2 879.8 506.3 881 500 881 C493.7 881 487 879.8 482 878 C477 876.2 473.3 873.8 470 870 C466.7 866.2 463.7 860.8 462 855 C460.3 849.2 459.8 841.7 460 835 C460.2 828.3 461 820.8 463 815Z" fill="url(#yk)" filter="url(#b15)"/>
<path d="M393.5 781 C393.7 777.2 394.6 771.8 396 768 C397.4 764.2 399.3 761.3 402 758.5 C404.7 755.7 408.2 752.9 412 751 C415.8 749.1 420.3 747.7 425 747.3 C429.7 746.9 435.5 747.7 440 748.5 C444.5 749.3 450.7 749.8 452 752 C453.3 754.2 450 759 448 762 C446 765 441.8 766.2 440 770 C438.2 773.8 438.7 780.8 437 785 C435.3 789.2 433.7 792.5 430 795 C426.3 797.5 419.2 798.2 415 800 C410.8 801.8 407.6 806 405 806 C402.4 806 401.2 802.5 399.5 800 C397.8 797.5 396 794.2 395 791 C394 787.8 393.3 784.8 393.5 781Z" fill="#74711f" filter="url(#b1)"/>
<ellipse cx="453" cy="767" rx="12" ry="10" fill="#4a4c2c" filter="url(#b2)"/>
<path d="M438 777 C441.3 773.7 453 778.8 460 780 C467 781.2 473.3 782.5 480 784 C486.7 785.5 494.2 787 500 789 C505.8 791 510 793.3 515 796 C520 798.7 525.7 801.8 530 805 C534.3 808.2 540 812 541 815 C542 818 539.2 822.8 536 823 C532.8 823.2 527.2 818.2 522 816 C516.8 813.8 510.3 811.3 505 810 C499.7 808.7 495 808.3 490 808 C485 807.7 479.7 807.7 475 808 C470.3 808.3 466.2 810 462 810 C457.8 810 453.7 809.7 450 808 C446.3 806.3 442 805.2 440 800 C438 794.8 434.7 780.3 438 777Z" fill="#23251e" filter="url(#b3)"/>
<path d="M458 812 C459.3 807.8 464 807 466 810 C468 813 469.5 823.3 470 830 C470.5 836.7 468.7 844 469 850 C469.3 856 472.5 863 472 866 C471.5 869 468 869.8 466 868 C464 866.2 461.3 860.5 460 855 C458.7 849.5 458.3 842.2 458 835 C457.7 827.8 456.7 816.2 458 812Z" fill="#27282a" filter="url(#b2)"/>
<path d="M430 748 C460 752 490 760 510 770 C530 780 560 796 590 811 C610 821 625 828 636 832" fill="none" stroke="#22224a" stroke-width="1.8" filter="url(#b1)" opacity="0.85"/>
<ellipse cx="647" cy="830" rx="8" ry="7.5" fill="#848a78" filter="url(#b2)"/>
<ellipse cx="657" cy="846" rx="8" ry="4" fill="#858b7a" filter="url(#b2)"/>
</g>
<path d="M442.6 798.5 C444.7 798.6 448.1 799.1 450.8 799.9 C453.5 800.7 457.4 802 459 803.4 C460.6 804.8 460.3 806.1 460.2 808.1 C460.1 810.1 458.6 812.4 458.4 815.1 C458.2 817.8 459 821.5 459 824.4 C459 827.3 458.8 829.9 458.4 832.6 C458 835.3 456.8 837.9 456.7 840.8 C456.6 843.7 457.3 847.3 457.8 850.2 C458.3 853.1 459.9 856.3 459.9 858.4 C459.9 860.5 459.7 862.1 457.8 863 C455.9 863.9 451.6 863.8 448.5 863.6 C445.4 863.4 442 863.2 439.1 861.9 C436.2 860.6 433.2 858.1 430.9 856 C428.6 853.9 426.9 851.9 425.1 849 C423.4 846.1 421.4 841.8 420.4 838.5 C419.4 835.2 419.1 832.2 419.2 829.1 C419.3 826 420 822.7 421 819.8 C422 816.9 423.2 814.3 425.1 811.6 C427 808.9 430 805.5 432.1 803.4 C434.2 801.3 436.2 800.1 438 799.3 C439.8 798.5 440.5 798.4 442.6 798.5Z" fill="#7f8674" filter="url(#b1)"/>
<ellipse cx="436" cy="806" rx="12" ry="8" fill="#3a3d30" filter="url(#b3)" opacity="0.6"/>
<ellipse cx="421" cy="802" rx="16" ry="10.5" fill="#18181a" filter="url(#b2)"/>
<ellipse cx="412" cy="819" rx="3" ry="3" fill="#1c1c40" filter="url(#b1)"/>
<ellipse cx="420.7" cy="776" rx="16" ry="15.6" fill="#10110d" filter="url(#b1)"/>
<g fill="#232538" filter="url(#b1)" opacity="0.9"><ellipse cx="502.3" cy="825.4" rx="2.7" ry="3.8" transform="rotate(58 502.3 825.4)"/><ellipse cx="492.6" cy="829" rx="1.8" ry="2.8" transform="rotate(117 492.6 829)"/><ellipse cx="512" cy="830.7" rx="2.7" ry="2.8" transform="rotate(96 512 830.7)"/><ellipse cx="505" cy="832.5" rx="2.4" ry="2.1" transform="rotate(10 505 832.5)"/><ellipse cx="515.4" cy="849" rx="3.2" ry="3.1" transform="rotate(6 515.4 849)"/><ellipse cx="509.3" cy="872" rx="2.6" ry="3.9" transform="rotate(12 509.3 872)"/><ellipse cx="527.7" cy="857" rx="4.3" ry="2.8" transform="rotate(76 527.7 857)"/><ellipse cx="526" cy="853" rx="2.6" ry="3.3" transform="rotate(22 526 853)"/><ellipse cx="529.5" cy="836" rx="4.6" ry="2.7" transform="rotate(112 529.5 836)"/><ellipse cx="538.2" cy="830.7" rx="2.7" ry="2.7" transform="rotate(103 538.2 830.7)"/><ellipse cx="554" cy="843" rx="2.8" ry="4.4" transform="rotate(175 554 843)"/><ellipse cx="548.8" cy="825.4" rx="2.5" ry="2.9" transform="rotate(154 548.8 825.4)"/><ellipse cx="462.8" cy="844.7" rx="2.6" ry="3.7" transform="rotate(25 462.8 844.7)"/><ellipse cx="473.3" cy="858.8" rx="3.4" ry="2.2" transform="rotate(55 473.3 858.8)"/><ellipse cx="477.7" cy="813.2" rx="3" ry="2.5" transform="rotate(32 477.7 813.2)"/><ellipse cx="497.9" cy="806.1" rx="2.7" ry="2.8" transform="rotate(115 497.9 806.1)"/><ellipse cx="463.7" cy="822" rx="2.2" ry="3.4" transform="rotate(98 463.7 822)"/><ellipse cx="464.6" cy="811.4" rx="2" ry="2.5" transform="rotate(10 464.6 811.4)"/><ellipse cx="480.4" cy="843" rx="2.2" ry="2.1" transform="rotate(122 480.4 843)"/><ellipse cx="483.9" cy="836" rx="1.9" ry="1.6" transform="rotate(56 483.9 836)"/><ellipse cx="530" cy="843" rx="2.7" ry="3.1" transform="rotate(81 530 843)"/><ellipse cx="545" cy="836" rx="2.8" ry="2.1" transform="rotate(142 545 836)"/><ellipse cx="520" cy="815" rx="2.7" ry="2.2" transform="rotate(43 520 815)"/><ellipse cx="535" cy="820" rx="3.1" ry="1.9" transform="rotate(94 535 820)"/><ellipse cx="555" cy="830" rx="2.3" ry="2.6" transform="rotate(131 555 830)"/><ellipse cx="506.7" cy="772.8" rx="1.8" ry="2.6" transform="rotate(176 506.7 772.8)"/><ellipse cx="513.7" cy="776.3" rx="2.6" ry="1.8" transform="rotate(75 513.7 776.3)"/><ellipse cx="520.7" cy="781.6" rx="2.2" ry="2.1" transform="rotate(27 520.7 781.6)"/><ellipse cx="527.7" cy="785" rx="2.5" ry="1.9" transform="rotate(7 527.7 785)"/><ellipse cx="534.7" cy="787.7" rx="2.3" ry="2" transform="rotate(137 534.7 787.7)"/><ellipse cx="541.8" cy="792" rx="2" ry="2.3" transform="rotate(157 541.8 792)"/><ellipse cx="548.8" cy="795.6" rx="2.4" ry="1.9" transform="rotate(125 548.8 795.6)"/><ellipse cx="554" cy="799" rx="2.2" ry="2.1" transform="rotate(104 554 799)"/><ellipse cx="473.3" cy="767.5" rx="2.5" ry="1.5" transform="rotate(151 473.3 767.5)"/><ellipse cx="483.9" cy="767.5" rx="2.2" ry="1.7" transform="rotate(85 483.9 767.5)"/><ellipse cx="457.5" cy="762.3" rx="2.3" ry="1.7" transform="rotate(10 457.5 762.3)"/><ellipse cx="450.5" cy="764" rx="2.3" ry="1.3" transform="rotate(116 450.5 764)"/><ellipse cx="436.2" cy="750.8" rx="1.5" ry="1.7" transform="rotate(147 436.2 750.8)"/><ellipse cx="442.9" cy="755.2" rx="1.8" ry="1.4" transform="rotate(69 442.9 755.2)"/><ellipse cx="398.4" cy="769.7" rx="1.5" ry="1.4" transform="rotate(4 398.4 769.7)"/><ellipse cx="402.9" cy="761.9" rx="1.2" ry="1.7" transform="rotate(30 402.9 761.9)"/><ellipse cx="471.8" cy="768.6" rx="2.1" ry="1.5" transform="rotate(10 471.8 768.6)"/><ellipse cx="485.1" cy="767.4" rx="1.6" ry="1.9" transform="rotate(23 485.1 767.4)"/><ellipse cx="498.4" cy="769.7" rx="2.2" ry="1.4" transform="rotate(70 498.4 769.7)"/><ellipse cx="511.8" cy="776.3" rx="1.8" ry="1.7" transform="rotate(14 511.8 776.3)"/><ellipse cx="520.7" cy="780.8" rx="2.2" ry="1.4" transform="rotate(98 520.7 780.8)"/><ellipse cx="451.8" cy="780.8" rx="3.1" ry="1.9" transform="rotate(147 451.8 780.8)"/><ellipse cx="462.9" cy="783" rx="2.4" ry="2.4" transform="rotate(50 462.9 783)"/><ellipse cx="564.8" cy="802.9" rx="2.5" ry="1.5" transform="rotate(64 564.8 802.9)"/><ellipse cx="568" cy="810.9" rx="1.8" ry="2.5" transform="rotate(172 568 810.9)"/><ellipse cx="577.7" cy="810.9" rx="1.8" ry="2.2" transform="rotate(31 577.7 810.9)"/><ellipse cx="584.1" cy="810.1" rx="1.8" ry="1.7" transform="rotate(42 584.1 810.1)"/><ellipse cx="592.2" cy="812.5" rx="1.6" ry="1.9" transform="rotate(106 592.2 812.5)"/><ellipse cx="563.2" cy="820.5" rx="2.2" ry="2.1" transform="rotate(0 563.2 820.5)"/><ellipse cx="569.6" cy="822.2" rx="2.1" ry="1.8" transform="rotate(66 569.6 822.2)"/><ellipse cx="577.7" cy="818.1" rx="2.3" ry="1.7" transform="rotate(171 577.7 818.1)"/><ellipse cx="588.9" cy="819.7" rx="2.4" ry="1.9" transform="rotate(92 588.9 819.7)"/><ellipse cx="600.2" cy="818.9" rx="1.4" ry="2.2" transform="rotate(121 600.2 818.9)"/><ellipse cx="563.2" cy="830.2" rx="2.8" ry="1.9" transform="rotate(161 563.2 830.2)"/><ellipse cx="572.9" cy="831.8" rx="2.6" ry="1.8" transform="rotate(157 572.9 831.8)"/><ellipse cx="598.6" cy="832.6" rx="1.9" ry="2" transform="rotate(70 598.6 832.6)"/><ellipse cx="606.6" cy="831" rx="2.2" ry="1.7" transform="rotate(18 606.6 831)"/><ellipse cx="616.3" cy="832.6" rx="1.6" ry="2.4" transform="rotate(11 616.3 832.6)"/><ellipse cx="624.3" cy="831.8" rx="1.3" ry="1.8" transform="rotate(37 624.3 831.8)"/><ellipse cx="630.7" cy="832.6" rx="1.2" ry="2" transform="rotate(61 630.7 832.6)"/><ellipse cx="569.6" cy="841.4" rx="2" ry="2.7" transform="rotate(0 569.6 841.4)"/><ellipse cx="584.1" cy="838.2" rx="2.1" ry="2.2" transform="rotate(18 584.1 838.2)"/><ellipse cx="588.9" cy="845.5" rx="2.7" ry="1.7" transform="rotate(4 588.9 845.5)"/><ellipse cx="600.2" cy="845.5" rx="1.7" ry="2.3" transform="rotate(110 600.2 845.5)"/><ellipse cx="613" cy="846.3" rx="1.9" ry="2" transform="rotate(45 613 846.3)"/><ellipse cx="624.3" cy="848.7" rx="1.6" ry="2.3" transform="rotate(65 624.3 848.7)"/><ellipse cx="634" cy="849.5" rx="2.3" ry="1.3" transform="rotate(152 634 849.5)"/><ellipse cx="643.6" cy="848.7" rx="1.6" ry="1.5" transform="rotate(83 643.6 848.7)"/><ellipse cx="630.7" cy="838.2" rx="1.3" ry="1.9" transform="rotate(15 630.7 838.2)"/><ellipse cx="640.4" cy="838.2" rx="1.4" ry="1.7" transform="rotate(61 640.4 838.2)"/><ellipse cx="646.8" cy="843.9" rx="1.3" ry="1.8" transform="rotate(149 646.8 843.9)"/><ellipse cx="643.6" cy="823.8" rx="1.9" ry="1.1" transform="rotate(4 643.6 823.8)"/><ellipse cx="650" cy="833.4" rx="1.2" ry="1.7" transform="rotate(95 650 833.4)"/><ellipse cx="662.9" cy="843" rx="1" ry="1.6" transform="rotate(97 662.9 843)"/><ellipse cx="563.2" cy="843" rx="2.8" ry="1.6" transform="rotate(95 563.2 843)"/><ellipse cx="580.9" cy="847.9" rx="2.3" ry="1.7" transform="rotate(155 580.9 847.9)"/><ellipse cx="498" cy="770" rx="2.3" ry="2.4" transform="rotate(47 498 770)"/><ellipse cx="503" cy="773" rx="2.6" ry="1.8" transform="rotate(30 503 773)"/><ellipse cx="509" cy="776" rx="3.1" ry="2.1" transform="rotate(95 509 776)"/><ellipse cx="516" cy="779" rx="2.1" ry="2.6" transform="rotate(59 516 779)"/><ellipse cx="523" cy="783" rx="3.1" ry="1.8" transform="rotate(146 523 783)"/><ellipse cx="530" cy="786" rx="2.6" ry="1.8" transform="rotate(153 530 786)"/><ellipse cx="537" cy="790" rx="2.5" ry="1.8" transform="rotate(147 537 790)"/><ellipse cx="545" cy="794" rx="2.3" ry="2" transform="rotate(40 545 794)"/><ellipse cx="552" cy="797" rx="1.5" ry="2.5" transform="rotate(64 552 797)"/><ellipse cx="560" cy="801" rx="1.8" ry="2.1" transform="rotate(5 560 801)"/><ellipse cx="568" cy="805" rx="2" ry="1.5" transform="rotate(46 568 805)"/><ellipse cx="576" cy="808" rx="1.8" ry="1.7" transform="rotate(172 576 808)"/><ellipse cx="585" cy="812" rx="2.3" ry="1.3" transform="rotate(168 585 812)"/><ellipse cx="594" cy="815" rx="1.7" ry="1.8" transform="rotate(171 594 815)"/><ellipse cx="603" cy="819" rx="1.4" ry="1.7" transform="rotate(39 603 819)"/><ellipse cx="612" cy="823" rx="1.4" ry="1.8" transform="rotate(35 612 823)"/><ellipse cx="621" cy="827" rx="1.9" ry="1.1" transform="rotate(112 621 827)"/><ellipse cx="490" cy="767" rx="2" ry="1.9" transform="rotate(151 490 767)"/><ellipse cx="501.4" cy="824.6" rx="4.5" ry="3" transform="rotate(117 501.4 824.6)"/><ellipse cx="494.2" cy="829.7" rx="3.3" ry="2.6" transform="rotate(15 494.2 829.7)"/><ellipse cx="511.6" cy="830.7" rx="3.8" ry="2.6" transform="rotate(163 511.6 830.7)"/><ellipse cx="505.5" cy="832.7" rx="2.8" ry="2.6" transform="rotate(135 505.5 832.7)"/><ellipse cx="515.7" cy="849.1" rx="4.5" ry="3" transform="rotate(32 515.7 849.1)"/><ellipse cx="528" cy="857.3" rx="5.4" ry="3.6" transform="rotate(59 528 857.3)"/><ellipse cx="508.6" cy="871.6" rx="3.7" ry="3.7" transform="rotate(174 508.6 871.6)"/><ellipse cx="472.7" cy="859.4" rx="3.8" ry="2.2" transform="rotate(72 472.7 859.4)"/><ellipse cx="462.5" cy="845" rx="3.2" ry="4.3" transform="rotate(130 462.5 845)"/><ellipse cx="463.5" cy="824.6" rx="2.5" ry="3.4" transform="rotate(22 463.5 824.6)"/><ellipse cx="477.9" cy="813.3" rx="3.6" ry="2.4" transform="rotate(162 477.9 813.3)"/><ellipse cx="497.3" cy="806.1" rx="3.6" ry="2.4" transform="rotate(26 497.3 806.1)"/><ellipse cx="530" cy="836.8" rx="5" ry="3.8" transform="rotate(176 530 836.8)"/><ellipse cx="542.3" cy="841" rx="4" ry="3.4" transform="rotate(63 542.3 841)"/><ellipse cx="554.6" cy="841" rx="2.9" ry="4.8" transform="rotate(23 554.6 841)"/><ellipse cx="571" cy="844" rx="4.2" ry="3.3" transform="rotate(174 571 844)"/><ellipse cx="566.9" cy="822.5" rx="3.8" ry="2.3" transform="rotate(94 566.9 822.5)"/><ellipse cx="554.6" cy="828.7" rx="3.7" ry="2.3" transform="rotate(78 554.6 828.7)"/><ellipse cx="538.2" cy="830.7" rx="2.6" ry="3.3" transform="rotate(148 538.2 830.7)"/><ellipse cx="562.8" cy="812.3" rx="2.7" ry="3.1" transform="rotate(45 562.8 812.3)"/><ellipse cx="466" cy="832" rx="2.7" ry="2.2" transform="rotate(43 466 832)"/><ellipse cx="460" cy="815" rx="2.9" ry="2.9" transform="rotate(46 460 815)"/><ellipse cx="470" cy="806" rx="3.8" ry="2.3" transform="rotate(23 470 806)"/><ellipse cx="520" cy="845" rx="3" ry="2.8" transform="rotate(63 520 845)"/><ellipse cx="525" cy="865" rx="3.7" ry="2.3" transform="rotate(105 525 865)"/><ellipse cx="536" cy="850" rx="4.4" ry="2.6" transform="rotate(75 536 850)"/></g>
<path d="M442.6 798.5 C444.7 798.6 448.1 799.1 450.8 799.9 C453.5 800.7 457.4 802 459 803.4 C460.6 804.8 460.3 806.1 460.2 808.1 C460.1 810.1 458.6 812.4 458.4 815.1 C458.2 817.8 459 821.5 459 824.4 C459 827.3 458.8 829.9 458.4 832.6 C458 835.3 456.8 837.9 456.7 840.8 C456.6 843.7 457.3 847.3 457.8 850.2 C458.3 853.1 459.9 856.3 459.9 858.4 C459.9 860.5 459.7 862.1 457.8 863 C455.9 863.9 451.6 863.8 448.5 863.6 C445.4 863.4 442 863.2 439.1 861.9 C436.2 860.6 433.2 858.1 430.9 856 C428.6 853.9 426.9 851.9 425.1 849 C423.4 846.1 421.4 841.8 420.4 838.5 C419.4 835.2 419.1 832.2 419.2 829.1 C419.3 826 420 822.7 421 819.8 C422 816.9 423.2 814.3 425.1 811.6 C427 808.9 430 805.5 432.1 803.4 C434.2 801.3 436.2 800.1 438 799.3 C439.8 798.5 440.5 798.4 442.6 798.5Z" fill="none" stroke="#dc5054" stroke-width="1.0"/>
<ellipse cx="601.8" cy="880.7" rx="1.4" ry="2.1" fill="#1e1e70"/>
<circle cx="664.4" cy="747.4" r="0.9" fill="#404060"/>
</g>
</svg>
</body></html>
